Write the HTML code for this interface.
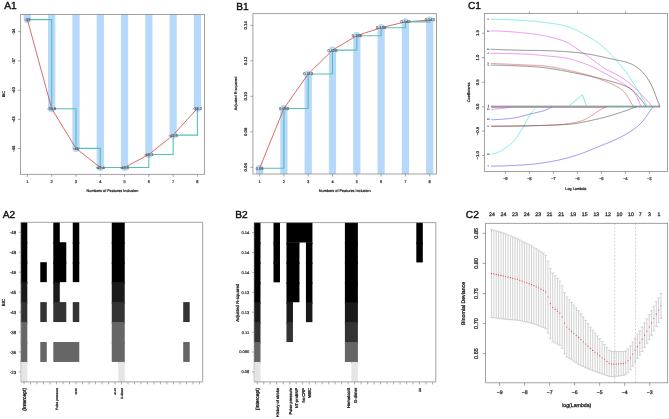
<!DOCTYPE html>
<html><head><meta charset="utf-8"><style>
html,body{margin:0;padding:0;background:#fff;}
svg{display:block;font-family:"Liberation Sans", sans-serif;will-change:transform;text-rendering:geometricPrecision;}
</style></head><body>
<svg width="669" height="419" viewBox="0 0 669 419">
<rect width="669" height="419" fill="#fff"/>
<text x="4.3" y="8.9" font-size="10.2" fill="#111" stroke="#111" stroke-width="0.4">A1</text>
<text x="236.3" y="9.6" font-size="10.2" fill="#111" stroke="#111" stroke-width="0.4">B1</text>
<text x="468" y="9.4" font-size="10.2" fill="#111" stroke="#111" stroke-width="0.4">C1</text>
<text x="2.7" y="218.1" font-size="10.2" fill="#111" stroke="#111" stroke-width="0.4">A2</text>
<text x="235.2" y="217.9" font-size="10.2" fill="#111" stroke="#111" stroke-width="0.4">B2</text>
<text x="465.8" y="218.1" font-size="10.2" fill="#111" stroke="#111" stroke-width="0.4">C2</text>
<rect x="23.8" y="14.4" width="7.2" height="5.2" fill="#b5d8fb"/>
<circle cx="27.4" cy="19.6" r="3.6" fill="#b5d8fb"/>
<rect x="48.09" y="14.4" width="7.2" height="94.3" fill="#b5d8fb"/>
<circle cx="51.69" cy="108.7" r="3.6" fill="#b5d8fb"/>
<rect x="72.38" y="14.4" width="7.2" height="134" fill="#b5d8fb"/>
<circle cx="75.98" cy="148.4" r="3.6" fill="#b5d8fb"/>
<rect x="96.67" y="14.4" width="7.2" height="153.1" fill="#b5d8fb"/>
<circle cx="100.27" cy="167.5" r="3.6" fill="#b5d8fb"/>
<rect x="120.96" y="14.4" width="7.2" height="153.1" fill="#b5d8fb"/>
<circle cx="124.56" cy="167.5" r="3.6" fill="#b5d8fb"/>
<rect x="145.25" y="14.4" width="7.2" height="140.1" fill="#b5d8fb"/>
<circle cx="148.85" cy="154.5" r="3.6" fill="#b5d8fb"/>
<rect x="169.54" y="14.4" width="7.2" height="120.7" fill="#b5d8fb"/>
<circle cx="173.14" cy="135.1" r="3.6" fill="#b5d8fb"/>
<rect x="193.83" y="14.4" width="7.2" height="93.9" fill="#b5d8fb"/>
<circle cx="197.43" cy="108.3" r="3.6" fill="#b5d8fb"/>
<rect x="20.5" y="14.4" width="183.9" height="159.9" fill="none" stroke="#8a8a8a" stroke-width="0.8"/>
<polyline points="27.4,19.6 51.69,108.7 75.98,148.4 100.27,167.5 124.56,167.5 148.85,154.5 173.14,135.1 197.43,108.3" fill="none" stroke="#d9504a" stroke-width="0.85" />
<polyline points="27.4,19.6 51.69,19.6 51.69,108.7 75.98,108.7 75.98,148.4 100.27,148.4 100.27,167.5 124.56,167.5 124.56,167.5 148.85,167.5 148.85,154.5 173.14,154.5 173.14,135.1 197.43,135.1 197.43,108.3" fill="none" stroke="#55c0b8" stroke-width="1.1" />
<text transform="translate(27.4,19.6)" y="1.44" font-size="4" text-anchor="middle" fill="#666" stroke="#666" stroke-width="0.22" font-weight="normal" >-33</text>
<text transform="translate(51.69,108.7)" y="1.44" font-size="4" text-anchor="middle" fill="#666" stroke="#666" stroke-width="0.22" font-weight="normal" >-39.9</text>
<text transform="translate(75.98,148.4)" y="1.44" font-size="4" text-anchor="middle" fill="#666" stroke="#666" stroke-width="0.22" font-weight="normal" >-45</text>
<text transform="translate(100.27,167.5)" y="1.44" font-size="4" text-anchor="middle" fill="#666" stroke="#666" stroke-width="0.22" font-weight="normal" >-48.4</text>
<text transform="translate(124.56,167.5)" y="1.44" font-size="4" text-anchor="middle" fill="#666" stroke="#666" stroke-width="0.22" font-weight="normal" >-48.6</text>
<text transform="translate(148.85,154.5)" y="1.44" font-size="4" text-anchor="middle" fill="#666" stroke="#666" stroke-width="0.22" font-weight="normal" >-46.1</text>
<text transform="translate(173.14,135.1)" y="1.44" font-size="4" text-anchor="middle" fill="#666" stroke="#666" stroke-width="0.22" font-weight="normal" >-42.6</text>
<text transform="translate(197.43,108.3)" y="1.44" font-size="4" text-anchor="middle" fill="#666" stroke="#666" stroke-width="0.22" font-weight="normal" >-38.2</text>
<line x1="27.4" y1="174.3" x2="27.4" y2="176.8" stroke="#8a8a8a" stroke-width="0.8" />
<text transform="translate(27.4,181.3)" y="1.44" font-size="4" text-anchor="middle" fill="#333" stroke="#333" stroke-width="0.22" font-weight="normal" >1</text>
<line x1="51.69" y1="174.3" x2="51.69" y2="176.8" stroke="#8a8a8a" stroke-width="0.8" />
<text transform="translate(51.69,181.3)" y="1.44" font-size="4" text-anchor="middle" fill="#333" stroke="#333" stroke-width="0.22" font-weight="normal" >2</text>
<line x1="75.98" y1="174.3" x2="75.98" y2="176.8" stroke="#8a8a8a" stroke-width="0.8" />
<text transform="translate(75.98,181.3)" y="1.44" font-size="4" text-anchor="middle" fill="#333" stroke="#333" stroke-width="0.22" font-weight="normal" >3</text>
<line x1="100.27" y1="174.3" x2="100.27" y2="176.8" stroke="#8a8a8a" stroke-width="0.8" />
<text transform="translate(100.27,181.3)" y="1.44" font-size="4" text-anchor="middle" fill="#333" stroke="#333" stroke-width="0.22" font-weight="normal" >4</text>
<line x1="124.56" y1="174.3" x2="124.56" y2="176.8" stroke="#8a8a8a" stroke-width="0.8" />
<text transform="translate(124.56,181.3)" y="1.44" font-size="4" text-anchor="middle" fill="#333" stroke="#333" stroke-width="0.22" font-weight="normal" >5</text>
<line x1="148.85" y1="174.3" x2="148.85" y2="176.8" stroke="#8a8a8a" stroke-width="0.8" />
<text transform="translate(148.85,181.3)" y="1.44" font-size="4" text-anchor="middle" fill="#333" stroke="#333" stroke-width="0.22" font-weight="normal" >6</text>
<line x1="173.14" y1="174.3" x2="173.14" y2="176.8" stroke="#8a8a8a" stroke-width="0.8" />
<text transform="translate(173.14,181.3)" y="1.44" font-size="4" text-anchor="middle" fill="#333" stroke="#333" stroke-width="0.22" font-weight="normal" >7</text>
<line x1="197.43" y1="174.3" x2="197.43" y2="176.8" stroke="#8a8a8a" stroke-width="0.8" />
<text transform="translate(197.43,181.3)" y="1.44" font-size="4" text-anchor="middle" fill="#333" stroke="#333" stroke-width="0.22" font-weight="normal" >8</text>
<line x1="18" y1="31.7" x2="20.5" y2="31.7" stroke="#8a8a8a" stroke-width="0.8" />
<text transform="translate(13.4,31.7) rotate(-90)" y="1.51" font-size="4.2" text-anchor="middle" fill="#333" stroke="#333" stroke-width="0.23" font-weight="normal" >-34</text>
<line x1="18" y1="60.9" x2="20.5" y2="60.9" stroke="#8a8a8a" stroke-width="0.8" />
<text transform="translate(13.4,60.9) rotate(-90)" y="1.51" font-size="4.2" text-anchor="middle" fill="#333" stroke="#333" stroke-width="0.23" font-weight="normal" >-37</text>
<line x1="18" y1="90.3" x2="20.5" y2="90.3" stroke="#8a8a8a" stroke-width="0.8" />
<text transform="translate(13.4,90.3) rotate(-90)" y="1.51" font-size="4.2" text-anchor="middle" fill="#333" stroke="#333" stroke-width="0.23" font-weight="normal" >-40</text>
<line x1="18" y1="119.4" x2="20.5" y2="119.4" stroke="#8a8a8a" stroke-width="0.8" />
<text transform="translate(13.4,119.4) rotate(-90)" y="1.51" font-size="4.2" text-anchor="middle" fill="#333" stroke="#333" stroke-width="0.23" font-weight="normal" >-43</text>
<line x1="18" y1="148.6" x2="20.5" y2="148.6" stroke="#8a8a8a" stroke-width="0.8" />
<text transform="translate(13.4,148.6) rotate(-90)" y="1.51" font-size="4.2" text-anchor="middle" fill="#333" stroke="#333" stroke-width="0.23" font-weight="normal" >-46</text>
<text transform="translate(112.4,190.5)" y="1.37" font-size="3.8" text-anchor="middle" fill="#222" stroke="#222" stroke-width="0.21" font-weight="normal" >Numbers of Features Inclusion</text>
<text transform="translate(4.1,94.2) rotate(-90)" y="1.37" font-size="3.8" text-anchor="middle" fill="#222" stroke="#222" stroke-width="0.21" font-weight="normal" >BIC</text>
<rect x="256" y="168.3" width="7.2" height="5.7" fill="#b5d8fb"/>
<circle cx="259.6" cy="168.3" r="3.6" fill="#b5d8fb"/>
<rect x="280.3" y="108.5" width="7.2" height="65.5" fill="#b5d8fb"/>
<circle cx="283.9" cy="108.5" r="3.6" fill="#b5d8fb"/>
<rect x="304.6" y="74" width="7.2" height="100" fill="#b5d8fb"/>
<circle cx="308.2" cy="74" r="3.6" fill="#b5d8fb"/>
<rect x="328.9" y="50.1" width="7.2" height="123.9" fill="#b5d8fb"/>
<circle cx="332.5" cy="50.1" r="3.6" fill="#b5d8fb"/>
<rect x="353.2" y="35.7" width="7.2" height="138.3" fill="#b5d8fb"/>
<circle cx="356.8" cy="35.7" r="3.6" fill="#b5d8fb"/>
<rect x="377.5" y="27.7" width="7.2" height="146.3" fill="#b5d8fb"/>
<circle cx="381.1" cy="27.7" r="3.6" fill="#b5d8fb"/>
<rect x="401.8" y="21.9" width="7.2" height="152.1" fill="#b5d8fb"/>
<circle cx="405.4" cy="21.9" r="3.6" fill="#b5d8fb"/>
<rect x="426.1" y="20" width="7.2" height="154" fill="#b5d8fb"/>
<circle cx="429.7" cy="20" r="3.6" fill="#b5d8fb"/>
<rect x="252.9" y="13.7" width="183.6" height="160.3" fill="none" stroke="#8a8a8a" stroke-width="0.8"/>
<polyline points="259.6,168.3 283.9,108.5 308.2,74 332.5,50.1 356.8,35.7 381.1,27.7 405.4,21.9 429.7,20" fill="none" stroke="#d9504a" stroke-width="0.85" />
<polyline points="259.6,168.3 283.9,168.3 283.9,108.5 308.2,108.5 308.2,74 332.5,74 332.5,50.1 356.8,50.1 356.8,35.7 381.1,35.7 381.1,27.7 405.4,27.7 405.4,21.9 429.7,21.9 429.7,20" fill="none" stroke="#55c0b8" stroke-width="1.1" />
<text transform="translate(259.6,168.3)" y="1.44" font-size="4" text-anchor="middle" fill="#666" stroke="#666" stroke-width="0.22" font-weight="normal" >0.06</text>
<text transform="translate(283.9,108.5)" y="1.44" font-size="4" text-anchor="middle" fill="#666" stroke="#666" stroke-width="0.22" font-weight="normal" >0.093</text>
<text transform="translate(308.2,74)" y="1.44" font-size="4" text-anchor="middle" fill="#666" stroke="#666" stroke-width="0.22" font-weight="normal" >0.113</text>
<text transform="translate(332.5,50.1)" y="1.44" font-size="4" text-anchor="middle" fill="#666" stroke="#666" stroke-width="0.22" font-weight="normal" >0.126</text>
<text transform="translate(356.8,35.7)" y="1.44" font-size="4" text-anchor="middle" fill="#666" stroke="#666" stroke-width="0.22" font-weight="normal" >0.138</text>
<text transform="translate(381.1,27.7)" y="1.44" font-size="4" text-anchor="middle" fill="#666" stroke="#666" stroke-width="0.22" font-weight="normal" >0.139</text>
<text transform="translate(405.4,21.9)" y="1.44" font-size="4" text-anchor="middle" fill="#666" stroke="#666" stroke-width="0.22" font-weight="normal" >0.142</text>
<text transform="translate(429.7,20)" y="1.44" font-size="4" text-anchor="middle" fill="#666" stroke="#666" stroke-width="0.22" font-weight="normal" >0.143</text>
<line x1="259.6" y1="174" x2="259.6" y2="176.5" stroke="#8a8a8a" stroke-width="0.8" />
<text transform="translate(259.6,181.2)" y="1.44" font-size="4" text-anchor="middle" fill="#333" stroke="#333" stroke-width="0.22" font-weight="normal" >1</text>
<line x1="283.9" y1="174" x2="283.9" y2="176.5" stroke="#8a8a8a" stroke-width="0.8" />
<text transform="translate(283.9,181.2)" y="1.44" font-size="4" text-anchor="middle" fill="#333" stroke="#333" stroke-width="0.22" font-weight="normal" >2</text>
<line x1="308.2" y1="174" x2="308.2" y2="176.5" stroke="#8a8a8a" stroke-width="0.8" />
<text transform="translate(308.2,181.2)" y="1.44" font-size="4" text-anchor="middle" fill="#333" stroke="#333" stroke-width="0.22" font-weight="normal" >3</text>
<line x1="332.5" y1="174" x2="332.5" y2="176.5" stroke="#8a8a8a" stroke-width="0.8" />
<text transform="translate(332.5,181.2)" y="1.44" font-size="4" text-anchor="middle" fill="#333" stroke="#333" stroke-width="0.22" font-weight="normal" >4</text>
<line x1="356.8" y1="174" x2="356.8" y2="176.5" stroke="#8a8a8a" stroke-width="0.8" />
<text transform="translate(356.8,181.2)" y="1.44" font-size="4" text-anchor="middle" fill="#333" stroke="#333" stroke-width="0.22" font-weight="normal" >5</text>
<line x1="381.1" y1="174" x2="381.1" y2="176.5" stroke="#8a8a8a" stroke-width="0.8" />
<text transform="translate(381.1,181.2)" y="1.44" font-size="4" text-anchor="middle" fill="#333" stroke="#333" stroke-width="0.22" font-weight="normal" >6</text>
<line x1="405.4" y1="174" x2="405.4" y2="176.5" stroke="#8a8a8a" stroke-width="0.8" />
<text transform="translate(405.4,181.2)" y="1.44" font-size="4" text-anchor="middle" fill="#333" stroke="#333" stroke-width="0.22" font-weight="normal" >7</text>
<line x1="429.7" y1="174" x2="429.7" y2="176.5" stroke="#8a8a8a" stroke-width="0.8" />
<text transform="translate(429.7,181.2)" y="1.44" font-size="4" text-anchor="middle" fill="#333" stroke="#333" stroke-width="0.22" font-weight="normal" >8</text>
<line x1="250.4" y1="25.3" x2="252.9" y2="25.3" stroke="#8a8a8a" stroke-width="0.8" />
<text transform="translate(245.6,25.3) rotate(-90)" y="1.51" font-size="4.2" text-anchor="middle" fill="#333" stroke="#333" stroke-width="0.23" font-weight="normal" >0.14</text>
<line x1="250.4" y1="60.8" x2="252.9" y2="60.8" stroke="#8a8a8a" stroke-width="0.8" />
<text transform="translate(245.6,60.8) rotate(-90)" y="1.51" font-size="4.2" text-anchor="middle" fill="#333" stroke="#333" stroke-width="0.23" font-weight="normal" >0.12</text>
<line x1="250.4" y1="96.3" x2="252.9" y2="96.3" stroke="#8a8a8a" stroke-width="0.8" />
<text transform="translate(245.6,96.3) rotate(-90)" y="1.51" font-size="4.2" text-anchor="middle" fill="#333" stroke="#333" stroke-width="0.23" font-weight="normal" >0.10</text>
<line x1="250.4" y1="131.8" x2="252.9" y2="131.8" stroke="#8a8a8a" stroke-width="0.8" />
<text transform="translate(245.6,131.8) rotate(-90)" y="1.51" font-size="4.2" text-anchor="middle" fill="#333" stroke="#333" stroke-width="0.23" font-weight="normal" >0.08</text>
<line x1="250.4" y1="167.3" x2="252.9" y2="167.3" stroke="#8a8a8a" stroke-width="0.8" />
<text transform="translate(245.6,167.3) rotate(-90)" y="1.51" font-size="4.2" text-anchor="middle" fill="#333" stroke="#333" stroke-width="0.23" font-weight="normal" >0.06</text>
<text transform="translate(344.7,190.6)" y="1.37" font-size="3.8" text-anchor="middle" fill="#222" stroke="#222" stroke-width="0.21" font-weight="normal" >Numbers of Features Inclusion</text>
<text transform="translate(235.6,93.4) rotate(-90)" y="1.37" font-size="3.8" text-anchor="middle" fill="#222" stroke="#222" stroke-width="0.21" font-weight="normal" >Adjusted R-squared</text>
<line x1="490.9" y1="106" x2="660.2" y2="106" stroke="#5a7a6a" stroke-width="0.5" />
<line x1="490.9" y1="106.5" x2="660.2" y2="106.5" stroke="#3aa0a0" stroke-width="0.5" />
<line x1="490.9" y1="107.1" x2="660.2" y2="107.1" stroke="#505050" stroke-width="0.5" />
<line x1="490.9" y1="107.5" x2="606" y2="107.5" stroke="#e06088" stroke-width="0.5" />
<polyline points="490.7,19.21 491.2,19.21 491.7,19.22 492.2,19.22 492.7,19.23 493.2,19.23 493.7,19.24 494.2,19.25 494.7,19.26 495.2,19.27 495.7,19.28 496.2,19.29 496.7,19.3 497.2,19.31 497.7,19.32 498.2,19.33 498.7,19.35 499.2,19.36 499.7,19.38 500.2,19.39 500.7,19.41 501.2,19.42 501.7,19.44 502.2,19.46 502.7,19.47 503.2,19.49 503.7,19.51 504.2,19.53 504.7,19.55 505.2,19.57 505.7,19.59 506.2,19.61 506.7,19.63 507.2,19.66 507.7,19.68 508.2,19.7 508.7,19.72 509.2,19.75 509.7,19.77 510.2,19.8 510.7,19.82 511.2,19.85 511.7,19.87 512.2,19.9 512.7,19.92 513.2,19.95 513.7,19.98 514.2,20 514.7,20.03 515.2,20.06 515.7,20.09 516.2,20.11 516.7,20.14 517.2,20.17 517.7,20.2 518.2,20.23 518.7,20.26 519.2,20.29 519.7,20.32 520.2,20.35 520.7,20.38 521.2,20.41 521.7,20.44 522.2,20.47 522.7,20.5 523.2,20.53 523.7,20.56 524.2,20.59 524.7,20.62 525.2,20.65 525.7,20.68 526.2,20.72 526.7,20.75 527.2,20.78 527.7,20.81 528.2,20.85 528.7,20.88 529.2,20.91 529.7,20.95 530.2,20.98 530.7,21.02 531.2,21.06 531.7,21.1 532.2,21.14 532.7,21.18 533.2,21.22 533.7,21.27 534.2,21.31 534.7,21.36 535.2,21.41 535.7,21.45 536.2,21.5 536.7,21.55 537.2,21.6 537.7,21.66 538.2,21.71 538.7,21.76 539.2,21.82 539.7,21.87 540.2,21.93 540.7,21.98 541.2,22.04 541.7,22.09 542.2,22.15 542.7,22.21 543.2,22.26 543.7,22.32 544.2,22.38 544.7,22.44 545.2,22.5 545.7,22.56 546.2,22.62 546.7,22.68 547.2,22.74 547.7,22.8 548.2,22.87 548.7,22.93 549.2,23 549.7,23.06 550.2,23.13 550.7,23.2 551.2,23.27 551.7,23.34 552.2,23.41 552.7,23.48 553.2,23.56 553.7,23.63 554.2,23.71 554.7,23.79 555.2,23.87 555.7,23.95 556.2,24.03 556.7,24.12 557.2,24.2 557.7,24.29 558.2,24.38 558.7,24.47 559.2,24.57 559.7,24.66 560.2,24.76 560.7,24.86 561.2,24.96 561.7,25.06 562.2,25.17 562.7,25.28 563.2,25.39 563.7,25.51 564.2,25.63 564.7,25.76 565.2,25.89 565.7,26.03 566.2,26.17 566.7,26.32 567.2,26.48 567.7,26.64 568.2,26.8 568.7,26.97 569.2,27.15 569.7,27.33 570.2,27.52 570.7,27.72 571.2,27.91 571.7,28.12 572.2,28.32 572.7,28.54 573.2,28.75 573.7,28.97 574.2,29.2 574.7,29.43 575.2,29.66 575.7,29.9 576.2,30.14 576.7,30.38 577.2,30.62 577.7,30.87 578.2,31.12 578.7,31.38 579.2,31.63 579.7,31.89 580.2,32.15 580.7,32.41 581.2,32.68 581.7,32.94 582.2,33.21 582.7,33.48 583.2,33.75 583.7,34.02 584.2,34.29 584.7,34.56 585.2,34.84 585.7,35.11 586.2,35.38 586.7,35.66 587.2,35.94 587.7,36.22 588.2,36.5 588.7,36.78 589.2,37.07 589.7,37.36 590.2,37.65 590.7,37.94 591.2,38.25 591.7,38.55 592.2,38.86 592.7,39.17 593.2,39.49 593.7,39.81 594.2,40.14 594.7,40.47 595.2,40.8 595.7,41.14 596.2,41.49 596.7,41.84 597.2,42.19 597.7,42.55 598.2,42.92 598.7,43.28 599.2,43.66 599.7,44.04 600.2,44.42 600.7,44.82 601.2,45.21 601.7,45.62 602.2,46.03 602.7,46.45 603.2,46.88 603.7,47.32 604.2,47.76 604.7,48.22 605.2,48.68 605.7,49.16 606.2,49.64 606.7,50.13 607.2,50.62 607.7,51.12 608.2,51.63 608.7,52.14 609.2,52.66 609.7,53.19 610.2,53.72 610.7,54.25 611.2,54.78 611.7,55.32 612.2,55.86 612.7,56.4 613.2,56.95 613.7,57.5 614.2,58.05 614.7,58.6 615.2,59.16 615.7,59.72 616.2,60.28 616.7,60.85 617.2,61.42 617.7,62 618.2,62.58 618.7,63.16 619.2,63.75 619.7,64.35 620.2,64.95 620.7,65.55 621.2,66.16 621.7,66.78 622.2,67.4 622.7,68.03 623.2,68.66 623.7,69.3 624.2,69.95 624.7,70.6 625.2,71.26 625.7,71.93 626.2,72.61 626.7,73.29 627.2,73.98 627.7,74.68 628.2,75.39 628.7,76.11 629.2,76.84 629.7,77.57 630.2,78.31 630.7,79.06 631.2,79.81 631.7,80.57 632.2,81.33 632.7,82.1 633.2,82.88 633.7,83.66 634.2,84.44 634.7,85.23 635.2,86.03 635.7,86.83 636.2,87.63 636.7,88.44 637.2,89.26 637.7,90.09 638.2,90.92 638.7,91.75 639.2,92.59 639.7,93.43 640.2,94.28 640.7,95.13 641.2,95.98 641.7,96.84 642.2,97.7 642.7,98.55 643.2,99.4 643.7,100.25 644.2,101.08 644.7,101.89 645.2,102.68 645.7,103.42 646.2,104.11 646.7,104.74 647.2,105.3 647.3,106.6" fill="none" stroke="#38e0e0" stroke-width="0.65" stroke-linejoin="round"/>
<polyline points="490.7,30.9 491.2,30.9 491.7,30.91 492.2,30.91 492.7,30.92 493.2,30.92 493.7,30.93 494.2,30.94 494.7,30.95 495.2,30.96 495.7,30.97 496.2,30.98 496.7,31 497.2,31.01 497.7,31.03 498.2,31.04 498.7,31.06 499.2,31.08 499.7,31.1 500.2,31.12 500.7,31.14 501.2,31.17 501.7,31.19 502.2,31.21 502.7,31.24 503.2,31.27 503.7,31.29 504.2,31.32 504.7,31.35 505.2,31.38 505.7,31.41 506.2,31.44 506.7,31.47 507.2,31.5 507.7,31.54 508.2,31.57 508.7,31.61 509.2,31.64 509.7,31.68 510.2,31.71 510.7,31.75 511.2,31.79 511.7,31.83 512.2,31.87 512.7,31.91 513.2,31.95 513.7,31.99 514.2,32.03 514.7,32.07 515.2,32.11 515.7,32.15 516.2,32.2 516.7,32.24 517.2,32.28 517.7,32.33 518.2,32.37 518.7,32.42 519.2,32.46 519.7,32.51 520.2,32.55 520.7,32.6 521.2,32.64 521.7,32.69 522.2,32.74 522.7,32.78 523.2,32.83 523.7,32.88 524.2,32.93 524.7,32.97 525.2,33.02 525.7,33.07 526.2,33.12 526.7,33.17 527.2,33.22 527.7,33.26 528.2,33.31 528.7,33.36 529.2,33.41 529.7,33.47 530.2,33.52 530.7,33.58 531.2,33.63 531.7,33.7 532.2,33.76 532.7,33.83 533.2,33.9 533.7,33.97 534.2,34.04 534.7,34.11 535.2,34.19 535.7,34.27 536.2,34.35 536.7,34.43 537.2,34.51 537.7,34.6 538.2,34.68 538.7,34.77 539.2,34.86 539.7,34.95 540.2,35.04 540.7,35.13 541.2,35.22 541.7,35.31 542.2,35.4 542.7,35.5 543.2,35.59 543.7,35.69 544.2,35.79 544.7,35.88 545.2,35.98 545.7,36.08 546.2,36.19 546.7,36.29 547.2,36.39 547.7,36.5 548.2,36.61 548.7,36.72 549.2,36.83 549.7,36.94 550.2,37.05 550.7,37.17 551.2,37.29 551.7,37.41 552.2,37.53 552.7,37.65 553.2,37.78 553.7,37.9 554.2,38.03 554.7,38.16 555.2,38.3 555.7,38.43 556.2,38.57 556.7,38.71 557.2,38.86 557.7,39 558.2,39.15 558.7,39.3 559.2,39.46 559.7,39.61 560.2,39.77 560.7,39.93 561.2,40.1 561.7,40.27 562.2,40.44 562.7,40.61 563.2,40.79 563.7,40.98 564.2,41.17 564.7,41.37 565.2,41.58 565.7,41.8 566.2,42.03 566.7,42.27 567.2,42.52 567.7,42.78 568.2,43.05 568.7,43.33 569.2,43.62 569.7,43.91 570.2,44.21 570.7,44.52 571.2,44.83 571.7,45.15 572.2,45.48 572.7,45.8 573.2,46.14 573.7,46.48 574.2,46.82 574.7,47.17 575.2,47.51 575.7,47.86 576.2,48.22 576.7,48.57 577.2,48.92 577.7,49.28 578.2,49.63 578.7,49.99 579.2,50.34 579.7,50.69 580.2,51.05 580.7,51.39 581.2,51.74 581.7,52.08 582.2,52.42 582.7,52.76 583.2,53.1 583.7,53.44 584.2,53.78 584.7,54.12 585.2,54.46 585.7,54.81 586.2,55.15 586.7,55.5 587.2,55.85 587.7,56.2 588.2,56.56 588.7,56.91 589.2,57.27 589.7,57.62 590.2,57.98 590.7,58.34 591.2,58.7 591.7,59.06 592.2,59.42 592.7,59.78 593.2,60.14 593.7,60.51 594.2,60.87 594.7,61.23 595.2,61.6 595.7,61.97 596.2,62.35 596.7,62.73 597.2,63.12 597.7,63.51 598.2,63.9 598.7,64.28 599.2,64.67 599.7,65.06 600.2,65.44 600.7,65.82 601.2,66.2 601.7,66.56 602.2,66.92 602.7,67.27 603.2,67.61 603.7,67.94 604.2,68.25 604.7,68.56 605.2,68.85 605.7,69.14 606.2,69.41 606.7,69.68 607.2,69.94 607.7,70.19 608.2,70.44 608.7,70.68 609.2,70.92 609.7,71.16 610.2,71.39 610.7,71.62 611.2,71.85 611.7,72.08 612.2,72.3 612.7,72.53 613.2,72.76 613.7,73 614.2,73.23 614.7,73.47 615.2,73.72 615.7,73.97 616.2,74.22 616.7,74.49 617.2,74.76 617.7,75.04 618.2,75.32 618.7,75.62 619.2,75.92 619.7,76.23 620.2,76.54 620.7,76.86 621.2,77.19 621.7,77.52 622.2,77.86 622.7,78.21 623.2,78.56 623.7,78.91 624.2,79.27 624.7,79.63 625.2,80 625.7,80.38 626.2,80.76 626.7,81.14 627.2,81.53 627.7,81.92 628.2,82.31 628.7,82.71 629.2,83.12 629.7,83.53 630.2,83.94 630.7,84.35 631.2,84.77 631.7,85.19 632.2,85.62 632.7,86.05 633.2,86.49 633.7,86.93 634.2,87.39 634.7,87.85 635.2,88.32 635.7,88.8 636.2,89.28 636.7,89.77 637.2,90.27 637.7,90.78 638.2,91.29 638.7,91.8 639.2,92.32 639.7,92.84 640.2,93.37 640.7,93.9 641.2,94.42 641.7,94.95 642.2,95.48 642.7,96.02 643.2,96.55 643.7,97.09 644.2,97.63 644.7,98.17 645.2,98.72 645.7,99.27 646.2,99.82 646.7,100.38 647.2,100.94 647.7,101.5 648.2,102.07 648.7,102.64 649.2,103.21 649.7,103.79 650.2,104.37 650.7,104.94 651.2,105.5 651.7,106.04 652.1,106.6" fill="none" stroke="#e258e2" stroke-width="0.65" stroke-linejoin="round"/>
<polyline points="490.7,49.24 491.2,49.25 491.7,49.27 492.2,49.28 492.7,49.3 493.2,49.32 493.7,49.34 494.2,49.36 494.7,49.39 495.2,49.41 495.7,49.43 496.2,49.45 496.7,49.47 497.2,49.5 497.7,49.52 498.2,49.54 498.7,49.56 499.2,49.58 499.7,49.6 500.2,49.62 500.7,49.64 501.2,49.66 501.7,49.68 502.2,49.7 502.7,49.72 503.2,49.74 503.7,49.76 504.2,49.77 504.7,49.79 505.2,49.81 505.7,49.83 506.2,49.85 506.7,49.86 507.2,49.88 507.7,49.9 508.2,49.91 508.7,49.93 509.2,49.95 509.7,49.96 510.2,49.98 510.7,49.99 511.2,50.01 511.7,50.02 512.2,50.04 512.7,50.05 513.2,50.07 513.7,50.08 514.2,50.1 514.7,50.11 515.2,50.12 515.7,50.14 516.2,50.15 516.7,50.16 517.2,50.17 517.7,50.19 518.2,50.2 518.7,50.21 519.2,50.22 519.7,50.23 520.2,50.24 520.7,50.25 521.2,50.26 521.7,50.28 522.2,50.29 522.7,50.29 523.2,50.3 523.7,50.31 524.2,50.32 524.7,50.33 525.2,50.34 525.7,50.35 526.2,50.36 526.7,50.36 527.2,50.37 527.7,50.38 528.2,50.39 528.7,50.39 529.2,50.4 529.7,50.4 530.2,50.41 530.7,50.42 531.2,50.42 531.7,50.43 532.2,50.43 532.7,50.43 533.2,50.44 533.7,50.44 534.2,50.45 534.7,50.45 535.2,50.45 535.7,50.46 536.2,50.46 536.7,50.47 537.2,50.47 537.7,50.48 538.2,50.48 538.7,50.49 539.2,50.49 539.7,50.5 540.2,50.51 540.7,50.52 541.2,50.52 541.7,50.53 542.2,50.54 542.7,50.55 543.2,50.56 543.7,50.57 544.2,50.59 544.7,50.6 545.2,50.61 545.7,50.63 546.2,50.64 546.7,50.66 547.2,50.67 547.7,50.69 548.2,50.71 548.7,50.72 549.2,50.74 549.7,50.76 550.2,50.78 550.7,50.8 551.2,50.82 551.7,50.84 552.2,50.86 552.7,50.89 553.2,50.91 553.7,50.93 554.2,50.96 554.7,50.98 555.2,51.01 555.7,51.03 556.2,51.06 556.7,51.08 557.2,51.11 557.7,51.14 558.2,51.16 558.7,51.19 559.2,51.22 559.7,51.25 560.2,51.28 560.7,51.31 561.2,51.34 561.7,51.37 562.2,51.4 562.7,51.44 563.2,51.47 563.7,51.5 564.2,51.53 564.7,51.57 565.2,51.6 565.7,51.64 566.2,51.67 566.7,51.7 567.2,51.74 567.7,51.78 568.2,51.81 568.7,51.85 569.2,51.89 569.7,51.92 570.2,51.96 570.7,52 571.2,52.04 571.7,52.08 572.2,52.11 572.7,52.15 573.2,52.19 573.7,52.23 574.2,52.27 574.7,52.32 575.2,52.36 575.7,52.4 576.2,52.45 576.7,52.49 577.2,52.54 577.7,52.59 578.2,52.64 578.7,52.69 579.2,52.75 579.7,52.81 580.2,52.86 580.7,52.93 581.2,52.99 581.7,53.05 582.2,53.12 582.7,53.19 583.2,53.26 583.7,53.33 584.2,53.41 584.7,53.48 585.2,53.56 585.7,53.64 586.2,53.72 586.7,53.8 587.2,53.88 587.7,53.97 588.2,54.06 588.7,54.14 589.2,54.23 589.7,54.32 590.2,54.41 590.7,54.51 591.2,54.6 591.7,54.7 592.2,54.79 592.7,54.89 593.2,54.99 593.7,55.09 594.2,55.19 594.7,55.29 595.2,55.39 595.7,55.49 596.2,55.59 596.7,55.7 597.2,55.8 597.7,55.91 598.2,56.01 598.7,56.12 599.2,56.23 599.7,56.33 600.2,56.44 600.7,56.55 601.2,56.66 601.7,56.77 602.2,56.87 602.7,56.98 603.2,57.09 603.7,57.2 604.2,57.31 604.7,57.42 605.2,57.53 605.7,57.64 606.2,57.75 606.7,57.86 607.2,57.97 607.7,58.08 608.2,58.19 608.7,58.29 609.2,58.4 609.7,58.51 610.2,58.62 610.7,58.72 611.2,58.83 611.7,58.93 612.2,59.04 612.7,59.14 613.2,59.25 613.7,59.35 614.2,59.45 614.7,59.55 615.2,59.65 615.7,59.75 616.2,59.85 616.7,59.95 617.2,60.05 617.7,60.16 618.2,60.26 618.7,60.36 619.2,60.47 619.7,60.57 620.2,60.68 620.7,60.79 621.2,60.9 621.7,61.02 622.2,61.13 622.7,61.25 623.2,61.38 623.7,61.5 624.2,61.63 624.7,61.76 625.2,61.9 625.7,62.04 626.2,62.18 626.7,62.33 627.2,62.48 627.7,62.64 628.2,62.8 628.7,62.97 629.2,63.15 629.7,63.33 630.2,63.52 630.7,63.73 631.2,63.94 631.7,64.16 632.2,64.4 632.7,64.65 633.2,64.91 633.7,65.19 634.2,65.48 634.7,65.78 635.2,66.1 635.7,66.43 636.2,66.77 636.7,67.13 637.2,67.5 637.7,67.88 638.2,68.27 638.7,68.67 639.2,69.09 639.7,69.51 640.2,69.95 640.7,70.4 641.2,70.87 641.7,71.35 642.2,71.84 642.7,72.35 643.2,72.89 643.7,73.44 644.2,74.01 644.7,74.61 645.2,75.24 645.7,75.89 646.2,76.56 646.7,77.26 647.2,77.99 647.7,78.74 648.2,79.53 648.7,80.34 649.2,81.17 649.7,82.04 650.2,82.94 650.7,83.87 651.2,84.84 651.7,85.85 652.2,86.9 652.7,88.01 653.2,89.15 653.7,90.35 654.2,91.6 654.7,92.9 655.2,94.24 655.7,95.6 656.2,96.97 656.7,98.34 657.2,99.66 657.7,100.91 658.2,102.07 658.7,103.1 659.2,103.99 659.2,106.6" fill="none" stroke="#505050" stroke-width="0.65" stroke-linejoin="round"/>
<polyline points="490.7,53.4 491.2,53.4 491.7,53.4 492.2,53.4 492.7,53.4 493.2,53.41 493.7,53.41 494.2,53.41 494.7,53.41 495.2,53.41 495.7,53.42 496.2,53.42 496.7,53.42 497.2,53.43 497.7,53.43 498.2,53.44 498.7,53.44 499.2,53.44 499.7,53.45 500.2,53.46 500.7,53.46 501.2,53.47 501.7,53.47 502.2,53.48 502.7,53.49 503.2,53.49 503.7,53.5 504.2,53.51 504.7,53.52 505.2,53.52 505.7,53.53 506.2,53.54 506.7,53.55 507.2,53.56 507.7,53.57 508.2,53.58 508.7,53.59 509.2,53.6 509.7,53.61 510.2,53.62 510.7,53.63 511.2,53.64 511.7,53.65 512.2,53.67 512.7,53.68 513.2,53.69 513.7,53.7 514.2,53.71 514.7,53.73 515.2,53.74 515.7,53.75 516.2,53.77 516.7,53.78 517.2,53.8 517.7,53.81 518.2,53.83 518.7,53.84 519.2,53.86 519.7,53.87 520.2,53.89 520.7,53.9 521.2,53.92 521.7,53.93 522.2,53.95 522.7,53.97 523.2,53.98 523.7,54 524.2,54.02 524.7,54.04 525.2,54.06 525.7,54.07 526.2,54.09 526.7,54.11 527.2,54.13 527.7,54.15 528.2,54.18 528.7,54.2 529.2,54.23 529.7,54.25 530.2,54.29 530.7,54.32 531.2,54.36 531.7,54.4 532.2,54.44 532.7,54.49 533.2,54.53 533.7,54.59 534.2,54.64 534.7,54.69 535.2,54.75 535.7,54.81 536.2,54.86 536.7,54.92 537.2,54.98 537.7,55.04 538.2,55.09 538.7,55.15 539.2,55.2 539.7,55.26 540.2,55.31 540.7,55.36 541.2,55.41 541.7,55.46 542.2,55.51 542.7,55.55 543.2,55.6 543.7,55.64 544.2,55.69 544.7,55.73 545.2,55.78 545.7,55.82 546.2,55.86 546.7,55.91 547.2,55.95 547.7,55.99 548.2,56.04 548.7,56.08 549.2,56.12 549.7,56.16 550.2,56.21 550.7,56.25 551.2,56.29 551.7,56.34 552.2,56.38 552.7,56.43 553.2,56.47 553.7,56.52 554.2,56.57 554.7,56.62 555.2,56.67 555.7,56.72 556.2,56.77 556.7,56.82 557.2,56.87 557.7,56.93 558.2,56.98 558.7,57.04 559.2,57.1 559.7,57.16 560.2,57.22 560.7,57.28 561.2,57.35 561.7,57.42 562.2,57.49 562.7,57.56 563.2,57.63 563.7,57.71 564.2,57.79 564.7,57.87 565.2,57.96 565.7,58.05 566.2,58.14 566.7,58.24 567.2,58.34 567.7,58.45 568.2,58.55 568.7,58.67 569.2,58.78 569.7,58.9 570.2,59.02 570.7,59.15 571.2,59.28 571.7,59.41 572.2,59.55 572.7,59.69 573.2,59.83 573.7,59.97 574.2,60.12 574.7,60.27 575.2,60.42 575.7,60.58 576.2,60.73 576.7,60.89 577.2,61.05 577.7,61.22 578.2,61.38 578.7,61.55 579.2,61.72 579.7,61.89 580.2,62.07 580.7,62.24 581.2,62.42 581.7,62.59 582.2,62.77 582.7,62.95 583.2,63.13 583.7,63.32 584.2,63.5 584.7,63.68 585.2,63.87 585.7,64.06 586.2,64.25 586.7,64.44 587.2,64.63 587.7,64.82 588.2,65.02 588.7,65.22 589.2,65.43 589.7,65.63 590.2,65.85 590.7,66.06 591.2,66.28 591.7,66.51 592.2,66.74 592.7,66.97 593.2,67.21 593.7,67.45 594.2,67.69 594.7,67.94 595.2,68.19 595.7,68.44 596.2,68.7 596.7,68.95 597.2,69.21 597.7,69.48 598.2,69.74 598.7,70.01 599.2,70.27 599.7,70.54 600.2,70.81 600.7,71.08 601.2,71.35 601.7,71.63 602.2,71.9 602.7,72.17 603.2,72.44 603.7,72.72 604.2,72.99 604.7,73.26 605.2,73.53 605.7,73.8 606.2,74.07 606.7,74.34 607.2,74.61 607.7,74.87 608.2,75.14 608.7,75.41 609.2,75.67 609.7,75.94 610.2,76.2 610.7,76.47 611.2,76.74 611.7,77 612.2,77.27 612.7,77.54 613.2,77.81 613.7,78.08 614.2,78.35 614.7,78.63 615.2,78.9 615.7,79.18 616.2,79.46 616.7,79.75 617.2,80.03 617.7,80.32 618.2,80.61 618.7,80.91 619.2,81.21 619.7,81.51 620.2,81.81 620.7,82.12 621.2,82.43 621.7,82.75 622.2,83.06 622.7,83.38 623.2,83.7 623.7,84.02 624.2,84.34 624.7,84.66 625.2,84.98 625.7,85.3 626.2,85.62 626.7,85.94 627.2,86.27 627.7,86.6 628.2,86.93 628.7,87.28 629.2,87.64 629.7,88.01 630.2,88.4 630.7,88.8 631.2,89.22 631.7,89.67 632.2,90.15 632.7,90.66 633.2,91.21 633.7,91.8 634.2,92.45 634.7,93.16 635.2,93.95 635.7,94.81 636.2,95.75 636.7,96.76 637.2,97.84 637.7,98.97 638.2,100.12 638.7,101.26 639.2,102.36 639.7,103.4 640.2,104.35 640.3,106.6" fill="none" stroke="#e258e2" stroke-width="0.65" stroke-linejoin="round"/>
<polyline points="490.7,63.43 491.2,63.45 491.7,63.46 492.2,63.48 492.7,63.49 493.2,63.51 493.7,63.53 494.2,63.55 494.7,63.57 495.2,63.59 495.7,63.62 496.2,63.64 496.7,63.66 497.2,63.68 497.7,63.7 498.2,63.73 498.7,63.75 499.2,63.77 499.7,63.79 500.2,63.81 500.7,63.83 501.2,63.86 501.7,63.88 502.2,63.9 502.7,63.92 503.2,63.94 503.7,63.97 504.2,63.99 504.7,64.01 505.2,64.03 505.7,64.05 506.2,64.08 506.7,64.1 507.2,64.12 507.7,64.14 508.2,64.16 508.7,64.19 509.2,64.21 509.7,64.23 510.2,64.25 510.7,64.28 511.2,64.3 511.7,64.32 512.2,64.34 512.7,64.36 513.2,64.39 513.7,64.41 514.2,64.43 514.7,64.45 515.2,64.48 515.7,64.5 516.2,64.52 516.7,64.54 517.2,64.56 517.7,64.59 518.2,64.61 518.7,64.63 519.2,64.65 519.7,64.68 520.2,64.7 520.7,64.72 521.2,64.74 521.7,64.77 522.2,64.79 522.7,64.81 523.2,64.83 523.7,64.86 524.2,64.88 524.7,64.9 525.2,64.92 525.7,64.95 526.2,64.97 526.7,64.99 527.2,65.01 527.7,65.04 528.2,65.06 528.7,65.08 529.2,65.1 529.7,65.12 530.2,65.14 530.7,65.17 531.2,65.19 531.7,65.21 532.2,65.23 532.7,65.25 533.2,65.27 533.7,65.29 534.2,65.31 534.7,65.33 535.2,65.35 535.7,65.38 536.2,65.4 536.7,65.42 537.2,65.45 537.7,65.48 538.2,65.5 538.7,65.53 539.2,65.56 539.7,65.6 540.2,65.63 540.7,65.67 541.2,65.7 541.7,65.74 542.2,65.79 542.7,65.83 543.2,65.88 543.7,65.92 544.2,65.98 544.7,66.03 545.2,66.08 545.7,66.14 546.2,66.2 546.7,66.26 547.2,66.32 547.7,66.39 548.2,66.45 548.7,66.52 549.2,66.59 549.7,66.66 550.2,66.74 550.7,66.81 551.2,66.89 551.7,66.97 552.2,67.05 552.7,67.13 553.2,67.21 553.7,67.3 554.2,67.38 554.7,67.47 555.2,67.56 555.7,67.65 556.2,67.74 556.7,67.84 557.2,67.93 557.7,68.02 558.2,68.12 558.7,68.22 559.2,68.32 559.7,68.42 560.2,68.52 560.7,68.62 561.2,68.72 561.7,68.83 562.2,68.93 562.7,69.04 563.2,69.14 563.7,69.25 564.2,69.36 564.7,69.47 565.2,69.58 565.7,69.69 566.2,69.8 566.7,69.91 567.2,70.02 567.7,70.13 568.2,70.25 568.7,70.36 569.2,70.47 569.7,70.59 570.2,70.7 570.7,70.82 571.2,70.93 571.7,71.05 572.2,71.16 572.7,71.28 573.2,71.4 573.7,71.51 574.2,71.63 574.7,71.75 575.2,71.86 575.7,71.98 576.2,72.1 576.7,72.22 577.2,72.34 577.7,72.46 578.2,72.58 578.7,72.7 579.2,72.83 579.7,72.95 580.2,73.08 580.7,73.21 581.2,73.34 581.7,73.47 582.2,73.6 582.7,73.73 583.2,73.87 583.7,74 584.2,74.14 584.7,74.28 585.2,74.42 585.7,74.56 586.2,74.7 586.7,74.85 587.2,74.99 587.7,75.14 588.2,75.29 588.7,75.44 589.2,75.59 589.7,75.74 590.2,75.89 590.7,76.05 591.2,76.2 591.7,76.36 592.2,76.52 592.7,76.68 593.2,76.85 593.7,77.01 594.2,77.18 594.7,77.34 595.2,77.51 595.7,77.68 596.2,77.85 596.7,78.03 597.2,78.2 597.7,78.38 598.2,78.56 598.7,78.74 599.2,78.92 599.7,79.1 600.2,79.29 600.7,79.47 601.2,79.66 601.7,79.85 602.2,80.04 602.7,80.23 603.2,80.43 603.7,80.62 604.2,80.82 604.7,81.02 605.2,81.22 605.7,81.43 606.2,81.63 606.7,81.84 607.2,82.05 607.7,82.26 608.2,82.47 608.7,82.68 609.2,82.9 609.7,83.12 610.2,83.34 610.7,83.56 611.2,83.78 611.7,84.01 612.2,84.23 612.7,84.46 613.2,84.7 613.7,84.93 614.2,85.17 614.7,85.42 615.2,85.67 615.7,85.93 616.2,86.19 616.7,86.46 617.2,86.74 617.7,87.02 618.2,87.32 618.7,87.63 619.2,87.95 619.7,88.28 620.2,88.62 620.7,88.98 621.2,89.36 621.7,89.75 622.2,90.17 622.7,90.6 623.2,91.07 623.7,91.56 624.2,92.09 624.7,92.65 625.2,93.25 625.7,93.88 626.2,94.55 626.7,95.26 627.2,96 627.7,96.78 628.2,97.59 628.7,98.43 629.2,99.29 629.7,100.17 630.2,101.06 630.7,101.95 631.2,102.84 631.7,103.71 632.2,104.55 632.7,105.37 633,106.6" fill="none" stroke="#e05858" stroke-width="0.65" stroke-linejoin="round"/>
<polyline points="490.7,65.1 491.2,65.11 491.7,65.11 492.2,65.11 492.7,65.12 493.2,65.12 493.7,65.12 494.2,65.13 494.7,65.13 495.2,65.14 495.7,65.15 496.2,65.16 496.7,65.16 497.2,65.17 497.7,65.18 498.2,65.19 498.7,65.2 499.2,65.21 499.7,65.22 500.2,65.23 500.7,65.24 501.2,65.26 501.7,65.27 502.2,65.28 502.7,65.29 503.2,65.31 503.7,65.32 504.2,65.34 504.7,65.35 505.2,65.37 505.7,65.38 506.2,65.4 506.7,65.42 507.2,65.43 507.7,65.45 508.2,65.47 508.7,65.48 509.2,65.5 509.7,65.52 510.2,65.54 510.7,65.56 511.2,65.58 511.7,65.6 512.2,65.62 512.7,65.64 513.2,65.66 513.7,65.68 514.2,65.7 514.7,65.72 515.2,65.74 515.7,65.76 516.2,65.79 516.7,65.81 517.2,65.83 517.7,65.85 518.2,65.88 518.7,65.9 519.2,65.92 519.7,65.94 520.2,65.97 520.7,65.99 521.2,66.01 521.7,66.04 522.2,66.06 522.7,66.09 523.2,66.11 523.7,66.13 524.2,66.16 524.7,66.18 525.2,66.21 525.7,66.23 526.2,66.26 526.7,66.28 527.2,66.31 527.7,66.33 528.2,66.36 528.7,66.38 529.2,66.41 529.7,66.44 530.2,66.46 530.7,66.49 531.2,66.52 531.7,66.55 532.2,66.58 532.7,66.62 533.2,66.65 533.7,66.69 534.2,66.72 534.7,66.76 535.2,66.79 535.7,66.83 536.2,66.87 536.7,66.91 537.2,66.96 537.7,67 538.2,67.04 538.7,67.09 539.2,67.13 539.7,67.18 540.2,67.23 540.7,67.28 541.2,67.33 541.7,67.38 542.2,67.44 542.7,67.49 543.2,67.55 543.7,67.61 544.2,67.67 544.7,67.73 545.2,67.79 545.7,67.85 546.2,67.92 546.7,67.99 547.2,68.05 547.7,68.12 548.2,68.19 548.7,68.26 549.2,68.34 549.7,68.41 550.2,68.49 550.7,68.56 551.2,68.64 551.7,68.72 552.2,68.8 552.7,68.88 553.2,68.96 553.7,69.04 554.2,69.12 554.7,69.21 555.2,69.29 555.7,69.38 556.2,69.46 556.7,69.55 557.2,69.64 557.7,69.73 558.2,69.81 558.7,69.9 559.2,70 559.7,70.09 560.2,70.18 560.7,70.27 561.2,70.36 561.7,70.46 562.2,70.55 562.7,70.65 563.2,70.74 563.7,70.84 564.2,70.93 564.7,71.03 565.2,71.12 565.7,71.22 566.2,71.32 566.7,71.41 567.2,71.51 567.7,71.61 568.2,71.71 568.7,71.81 569.2,71.9 569.7,72 570.2,72.1 570.7,72.2 571.2,72.3 571.7,72.4 572.2,72.49 572.7,72.59 573.2,72.69 573.7,72.79 574.2,72.89 574.7,72.98 575.2,73.08 575.7,73.18 576.2,73.28 576.7,73.38 577.2,73.47 577.7,73.57 578.2,73.67 578.7,73.77 579.2,73.87 579.7,73.97 580.2,74.07 580.7,74.17 581.2,74.27 581.7,74.37 582.2,74.47 582.7,74.57 583.2,74.67 583.7,74.77 584.2,74.88 584.7,74.98 585.2,75.08 585.7,75.19 586.2,75.29 586.7,75.4 587.2,75.5 587.7,75.61 588.2,75.71 588.7,75.82 589.2,75.93 589.7,76.04 590.2,76.14 590.7,76.25 591.2,76.36 591.7,76.47 592.2,76.58 592.7,76.7 593.2,76.81 593.7,76.92 594.2,77.04 594.7,77.15 595.2,77.26 595.7,77.38 596.2,77.5 596.7,77.61 597.2,77.73 597.7,77.85 598.2,77.97 598.7,78.09 599.2,78.21 599.7,78.34 600.2,78.46 600.7,78.58 601.2,78.71 601.7,78.83 602.2,78.96 602.7,79.09 603.2,79.22 603.7,79.35 604.2,79.48 604.7,79.61 605.2,79.74 605.7,79.88 606.2,80.01 606.7,80.15 607.2,80.28 607.7,80.42 608.2,80.56 608.7,80.7 609.2,80.84 609.7,80.99 610.2,81.13 610.7,81.27 611.2,81.42 611.7,81.56 612.2,81.71 612.7,81.85 613.2,82 613.7,82.15 614.2,82.29 614.7,82.44 615.2,82.59 615.7,82.74 616.2,82.89 616.7,83.04 617.2,83.19 617.7,83.35 618.2,83.51 618.7,83.67 619.2,83.83 619.7,83.99 620.2,84.16 620.7,84.33 621.2,84.51 621.7,84.69 622.2,84.87 622.7,85.06 623.2,85.25 623.7,85.45 624.2,85.65 624.7,85.85 625.2,86.06 625.7,86.28 626.2,86.51 626.7,86.74 627.2,86.97 627.7,87.22 628.2,87.47 628.7,87.74 629.2,88.01 629.7,88.3 630.2,88.6 630.7,88.92 631.2,89.26 631.7,89.61 632.2,89.99 632.7,90.39 633.2,90.81 633.7,91.26 634.2,91.72 634.7,92.2 635.2,92.71 635.7,93.22 636.2,93.76 636.7,94.3 637.2,94.86 637.7,95.43 638.2,96 638.7,96.59 639.2,97.19 639.7,97.79 640.2,98.41 640.7,99.04 641.2,99.68 641.7,100.33 642.2,100.99 642.7,101.67 643.2,102.35 643.7,103.04 644.2,103.73 644.7,104.42 645.2,105.1 645.7,105.77 646.1,106.6" fill="none" stroke="#505050" stroke-width="0.65" stroke-linejoin="round"/>
<polyline points="490.9,166.1 491.4,166.1 491.9,166.09 492.4,166.09 492.9,166.09 493.4,166.09 493.9,166.08 494.4,166.08 494.9,166.07 495.4,166.06 495.9,166.06 496.4,166.05 496.9,166.04 497.4,166.03 497.9,166.02 498.4,166.01 498.9,166 499.4,165.99 499.9,165.98 500.4,165.97 500.9,165.95 501.4,165.94 501.9,165.93 502.4,165.91 502.9,165.9 503.4,165.88 503.9,165.86 504.4,165.85 504.9,165.83 505.4,165.81 505.9,165.79 506.4,165.78 506.9,165.76 507.4,165.74 507.9,165.72 508.4,165.7 508.9,165.67 509.4,165.65 509.9,165.63 510.4,165.61 510.9,165.59 511.4,165.56 511.9,165.54 512.4,165.52 512.9,165.49 513.4,165.47 513.9,165.44 514.4,165.42 514.9,165.39 515.4,165.37 515.9,165.34 516.4,165.31 516.9,165.29 517.4,165.26 517.9,165.23 518.4,165.21 518.9,165.18 519.4,165.15 519.9,165.12 520.4,165.1 520.9,165.07 521.4,165.04 521.9,165.01 522.4,164.98 522.9,164.95 523.4,164.92 523.9,164.89 524.4,164.86 524.9,164.83 525.4,164.8 525.9,164.77 526.4,164.73 526.9,164.7 527.4,164.66 527.9,164.62 528.4,164.59 528.9,164.55 529.4,164.5 529.9,164.46 530.4,164.41 530.9,164.37 531.4,164.32 531.9,164.27 532.4,164.22 532.9,164.17 533.4,164.11 533.9,164.06 534.4,164 534.9,163.95 535.4,163.89 535.9,163.83 536.4,163.76 536.9,163.7 537.4,163.64 537.9,163.57 538.4,163.51 538.9,163.44 539.4,163.37 539.9,163.3 540.4,163.23 540.9,163.16 541.4,163.09 541.9,163.02 542.4,162.94 542.9,162.87 543.4,162.79 543.9,162.72 544.4,162.64 544.9,162.56 545.4,162.48 545.9,162.4 546.4,162.32 546.9,162.24 547.4,162.16 547.9,162.08 548.4,162 548.9,161.91 549.4,161.83 549.9,161.75 550.4,161.66 550.9,161.58 551.4,161.49 551.9,161.4 552.4,161.31 552.9,161.23 553.4,161.14 553.9,161.04 554.4,160.95 554.9,160.86 555.4,160.76 555.9,160.66 556.4,160.56 556.9,160.46 557.4,160.35 557.9,160.25 558.4,160.14 558.9,160.03 559.4,159.91 559.9,159.8 560.4,159.68 560.9,159.57 561.4,159.45 561.9,159.33 562.4,159.2 562.9,159.08 563.4,158.95 563.9,158.83 564.4,158.7 564.9,158.57 565.4,158.43 565.9,158.3 566.4,158.17 566.9,158.03 567.4,157.89 567.9,157.76 568.4,157.62 568.9,157.48 569.4,157.33 569.9,157.19 570.4,157.05 570.9,156.9 571.4,156.76 571.9,156.61 572.4,156.46 572.9,156.32 573.4,156.17 573.9,156.02 574.4,155.86 574.9,155.71 575.4,155.56 575.9,155.4 576.4,155.24 576.9,155.08 577.4,154.92 577.9,154.76 578.4,154.59 578.9,154.42 579.4,154.25 579.9,154.08 580.4,153.9 580.9,153.72 581.4,153.55 581.9,153.36 582.4,153.18 582.9,153 583.4,152.81 583.9,152.62 584.4,152.43 584.9,152.24 585.4,152.05 585.9,151.85 586.4,151.66 586.9,151.46 587.4,151.26 587.9,151.07 588.4,150.87 588.9,150.66 589.4,150.46 589.9,150.26 590.4,150.06 590.9,149.85 591.4,149.65 591.9,149.44 592.4,149.23 592.9,149.03 593.4,148.82 593.9,148.61 594.4,148.41 594.9,148.2 595.4,147.99 595.9,147.78 596.4,147.58 596.9,147.37 597.4,147.16 597.9,146.95 598.4,146.75 598.9,146.54 599.4,146.33 599.9,146.13 600.4,145.92 600.9,145.72 601.4,145.51 601.9,145.31 602.4,145.11 602.9,144.9 603.4,144.7 603.9,144.5 604.4,144.3 604.9,144.09 605.4,143.89 605.9,143.69 606.4,143.49 606.9,143.28 607.4,143.08 607.9,142.87 608.4,142.67 608.9,142.46 609.4,142.26 609.9,142.05 610.4,141.84 610.9,141.63 611.4,141.42 611.9,141.21 612.4,140.99 612.9,140.77 613.4,140.56 613.9,140.34 614.4,140.12 614.9,139.89 615.4,139.67 615.9,139.44 616.4,139.21 616.9,138.97 617.4,138.74 617.9,138.5 618.4,138.26 618.9,138.02 619.4,137.77 619.9,137.52 620.4,137.27 620.9,137.01 621.4,136.75 621.9,136.49 622.4,136.23 622.9,135.96 623.4,135.69 623.9,135.42 624.4,135.14 624.9,134.86 625.4,134.58 625.9,134.3 626.4,134.01 626.9,133.72 627.4,133.43 627.9,133.13 628.4,132.83 628.9,132.52 629.4,132.21 629.9,131.89 630.4,131.57 630.9,131.25 631.4,130.92 631.9,130.58 632.4,130.24 632.9,129.89 633.4,129.53 633.9,129.17 634.4,128.8 634.9,128.42 635.4,128.04 635.9,127.65 636.4,127.25 636.9,126.84 637.4,126.41 637.9,125.98 638.4,125.54 638.9,125.08 639.4,124.61 639.9,124.13 640.4,123.62 640.9,123.11 641.4,122.57 641.9,122.02 642.4,121.45 642.9,120.87 643.4,120.27 643.9,119.65 644.4,119.02 644.9,118.38 645.4,117.72 645.9,117.05 646.4,116.37 646.9,115.68 647.4,114.97 647.9,114.25 648.4,113.53 648.9,112.79 649.4,112.04 649.9,111.29 650.4,110.54 650.9,109.8 651.4,109.06 651.9,108.34 652.4,107.65 652.7,106.6" fill="none" stroke="#5a5ae6" stroke-width="0.65" stroke-linejoin="round"/>
<polyline points="490.9,154.18 491.4,154.16 491.9,154.13 492.4,154.08 492.9,154.02 493.4,153.94 493.9,153.84 494.4,153.73 494.9,153.6 495.4,153.46 495.9,153.3 496.4,153.13 496.9,152.94 497.4,152.74 497.9,152.53 498.4,152.3 498.9,152.06 499.4,151.81 499.9,151.55 500.4,151.28 500.9,151 501.4,150.71 501.9,150.4 502.4,150.09 502.9,149.77 503.4,149.44 503.9,149.11 504.4,148.77 504.9,148.42 505.4,148.06 505.9,147.7 506.4,147.33 506.9,146.95 507.4,146.58 507.9,146.19 508.4,145.81 508.9,145.42 509.4,145.03 509.9,144.63 510.4,144.23 510.9,143.83 511.4,143.41 511.9,142.98 512.4,142.53 512.9,142.05 513.4,141.53 513.9,140.98 514.4,140.4 514.9,139.79 515.4,139.15 515.9,138.48 516.4,137.79 516.9,137.08 517.4,136.35 517.9,135.6 518.4,134.83 518.9,134.06 519.4,133.27 519.9,132.48 520.4,131.68 520.9,130.88 521.4,130.08 521.9,129.27 522.4,128.46 522.9,127.62 523.4,126.77 523.9,125.9 524.4,124.99 524.9,124.06 525.4,123.12 525.9,122.16 526.4,121.21 526.9,120.26 527.4,119.33 527.9,118.42 528.4,117.54 528.9,116.7 529.4,115.9 529.9,115.14 530.4,114.42 530.9,113.73 531.4,113.06 531.9,112.41 532.4,111.78 532.9,111.14 533.4,110.5 533.9,109.86 534.4,109.21 534.9,108.56 535.4,107.91 535.9,107.26 536.4,106.6" fill="none" stroke="#38e0e0" stroke-width="0.65" stroke-linejoin="round"/>
<polyline points="491.2,119.69 491.7,119.69 492.2,119.68 492.7,119.67 493.2,119.67 493.7,119.65 494.2,119.64 494.7,119.63 495.2,119.61 495.7,119.59 496.2,119.57 496.7,119.55 497.2,119.53 497.7,119.5 498.2,119.48 498.7,119.45 499.2,119.42 499.7,119.38 500.2,119.35 500.7,119.32 501.2,119.28 501.7,119.24 502.2,119.2 502.7,119.16 503.2,119.12 503.7,119.08 504.2,119.04 504.7,118.99 505.2,118.95 505.7,118.9 506.2,118.85 506.7,118.81 507.2,118.76 507.7,118.71 508.2,118.66 508.7,118.61 509.2,118.56 509.7,118.5 510.2,118.45 510.7,118.39 511.2,118.34 511.7,118.28 512.2,118.21 512.7,118.15 513.2,118.08 513.7,118 514.2,117.92 514.7,117.84 515.2,117.75 515.7,117.66 516.2,117.57 516.7,117.47 517.2,117.36 517.7,117.26 518.2,117.15 518.7,117.03 519.2,116.92 519.7,116.8 520.2,116.67 520.7,116.55 521.2,116.42 521.7,116.29 522.2,116.16 522.7,116.03 523.2,115.9 523.7,115.76 524.2,115.63 524.7,115.49 525.2,115.35 525.7,115.22 526.2,115.08 526.7,114.94 527.2,114.81 527.7,114.67 528.2,114.54 528.7,114.41 529.2,114.27 529.7,114.14 530.2,114.02 530.7,113.89 531.2,113.77 531.7,113.65 532.2,113.53 532.7,113.41 533.2,113.29 533.7,113.18 534.2,113.07 534.7,112.96 535.2,112.85 535.7,112.74 536.2,112.64 536.7,112.53 537.2,112.42 537.7,112.31 538.2,112.2 538.7,112.09 539.2,111.98 539.7,111.86 540.2,111.74 540.7,111.62 541.2,111.5 541.7,111.37 542.2,111.23 542.7,111.09 543.2,110.94 543.7,110.79 544.2,110.63 544.7,110.45 545.2,110.27 545.7,110.08 546.2,109.87 546.7,109.65 547.2,109.41 547.7,109.16 548.2,108.9 548.7,108.63 549.2,108.35 549.7,108.08 550.2,107.81 550.7,107.56 551.2,107.32 551.7,107.1 551.8,106.6" fill="none" stroke="#5a5ae6" stroke-width="0.65" stroke-linejoin="round"/>
<polyline points="491.2,126.1 491.7,126.1 492.2,126.1 492.7,126.1 493.2,126.1 493.7,126.1 494.2,126.1 494.7,126.1 495.2,126.1 495.7,126.09 496.2,126.09 496.7,126.09 497.2,126.09 497.7,126.09 498.2,126.09 498.7,126.09 499.2,126.08 499.7,126.08 500.2,126.08 500.7,126.08 501.2,126.08 501.7,126.07 502.2,126.07 502.7,126.07 503.2,126.07 503.7,126.06 504.2,126.06 504.7,126.06 505.2,126.05 505.7,126.05 506.2,126.05 506.7,126.04 507.2,126.04 507.7,126.04 508.2,126.03 508.7,126.03 509.2,126.02 509.7,126.02 510.2,126.02 510.7,126.01 511.2,126.01 511.7,126 512.2,126 512.7,125.99 513.2,125.99 513.7,125.98 514.2,125.98 514.7,125.97 515.2,125.97 515.7,125.96 516.2,125.96 516.7,125.95 517.2,125.94 517.7,125.94 518.2,125.93 518.7,125.92 519.2,125.92 519.7,125.91 520.2,125.91 520.7,125.9 521.2,125.89 521.7,125.88 522.2,125.88 522.7,125.87 523.2,125.86 523.7,125.85 524.2,125.85 524.7,125.84 525.2,125.83 525.7,125.82 526.2,125.82 526.7,125.81 527.2,125.8 527.7,125.79 528.2,125.78 528.7,125.77 529.2,125.76 529.7,125.76 530.2,125.75 530.7,125.74 531.2,125.73 531.7,125.72 532.2,125.71 532.7,125.7 533.2,125.69 533.7,125.68 534.2,125.67 534.7,125.66 535.2,125.65 535.7,125.64 536.2,125.63 536.7,125.62 537.2,125.61 537.7,125.6 538.2,125.58 538.7,125.57 539.2,125.56 539.7,125.55 540.2,125.54 540.7,125.53 541.2,125.52 541.7,125.5 542.2,125.49 542.7,125.48 543.2,125.47 543.7,125.45 544.2,125.44 544.7,125.43 545.2,125.42 545.7,125.4 546.2,125.39 546.7,125.38 547.2,125.36 547.7,125.35 548.2,125.34 548.7,125.32 549.2,125.31 549.7,125.3 550.2,125.28 550.7,125.27 551.2,125.25 551.7,125.24 552.2,125.22 552.7,125.2 553.2,125.19 553.7,125.17 554.2,125.15 554.7,125.12 555.2,125.1 555.7,125.07 556.2,125.04 556.7,125.01 557.2,124.98 557.7,124.94 558.2,124.9 558.7,124.86 559.2,124.82 559.7,124.77 560.2,124.73 560.7,124.68 561.2,124.62 561.7,124.57 562.2,124.51 562.7,124.46 563.2,124.39 563.7,124.33 564.2,124.27 564.7,124.2 565.2,124.13 565.7,124.06 566.2,123.99 566.7,123.91 567.2,123.84 567.7,123.76 568.2,123.68 568.7,123.6 569.2,123.51 569.7,123.43 570.2,123.34 570.7,123.25 571.2,123.16 571.7,123.06 572.2,122.97 572.7,122.87 573.2,122.77 573.7,122.67 574.2,122.57 574.7,122.47 575.2,122.36 575.7,122.26 576.2,122.15 576.7,122.04 577.2,121.93 577.7,121.82 578.2,121.7 578.7,121.58 579.2,121.46 579.7,121.33 580.2,121.2 580.7,121.06 581.2,120.91 581.7,120.76 582.2,120.59 582.7,120.42 583.2,120.23 583.7,120.03 584.2,119.81 584.7,119.59 585.2,119.36 585.7,119.11 586.2,118.85 586.7,118.59 587.2,118.31 587.7,118.02 588.2,117.73 588.7,117.43 589.2,117.13 589.7,116.82 590.2,116.5 590.7,116.18 591.2,115.85 591.7,115.52 592.2,115.19 592.7,114.86 593.2,114.52 593.7,114.19 594.2,113.85 594.7,113.52 595.2,113.18 595.7,112.85 596.2,112.52 596.7,112.2 597.2,111.87 597.7,111.56 598.2,111.24 598.7,110.93 599.2,110.63 599.7,110.33 600.2,110.03 600.7,109.74 601.2,109.45 601.7,109.16 602.2,108.88 602.7,108.6 603.2,108.33 603.7,108.07 604.2,107.83 604.7,107.6 605.2,107.39 605.7,107.2 606.2,107.05 606.2,106.6" fill="none" stroke="#e05858" stroke-width="0.65" stroke-linejoin="round"/>
<polyline points="491.2,126.3 491.7,126.3 492.2,126.3 492.7,126.3 493.2,126.3 493.7,126.3 494.2,126.3 494.7,126.29 495.2,126.29 495.7,126.29 496.2,126.29 496.7,126.29 497.2,126.29 497.7,126.28 498.2,126.28 498.7,126.28 499.2,126.28 499.7,126.27 500.2,126.27 500.7,126.27 501.2,126.26 501.7,126.26 502.2,126.26 502.7,126.25 503.2,126.25 503.7,126.25 504.2,126.24 504.7,126.24 505.2,126.23 505.7,126.23 506.2,126.22 506.7,126.22 507.2,126.21 507.7,126.21 508.2,126.2 508.7,126.2 509.2,126.19 509.7,126.18 510.2,126.18 510.7,126.17 511.2,126.16 511.7,126.16 512.2,126.15 512.7,126.14 513.2,126.14 513.7,126.13 514.2,126.12 514.7,126.11 515.2,126.1 515.7,126.1 516.2,126.09 516.7,126.08 517.2,126.07 517.7,126.06 518.2,126.05 518.7,126.04 519.2,126.03 519.7,126.03 520.2,126.02 520.7,126.01 521.2,126 521.7,125.99 522.2,125.98 522.7,125.97 523.2,125.95 523.7,125.94 524.2,125.93 524.7,125.92 525.2,125.91 525.7,125.9 526.2,125.89 526.7,125.88 527.2,125.86 527.7,125.85 528.2,125.84 528.7,125.83 529.2,125.81 529.7,125.8 530.2,125.79 530.7,125.78 531.2,125.76 531.7,125.75 532.2,125.74 532.7,125.72 533.2,125.71 533.7,125.69 534.2,125.68 534.7,125.67 535.2,125.65 535.7,125.64 536.2,125.62 536.7,125.61 537.2,125.59 537.7,125.58 538.2,125.56 538.7,125.54 539.2,125.53 539.7,125.51 540.2,125.5 540.7,125.48 541.2,125.46 541.7,125.45 542.2,125.43 542.7,125.41 543.2,125.4 543.7,125.38 544.2,125.36 544.7,125.34 545.2,125.33 545.7,125.31 546.2,125.29 546.7,125.27 547.2,125.25 547.7,125.24 548.2,125.22 548.7,125.2 549.2,125.18 549.7,125.16 550.2,125.14 550.7,125.12 551.2,125.1 551.7,125.08 552.2,125.06 552.7,125.04 553.2,125.02 553.7,125 554.2,124.98 554.7,124.96 555.2,124.94 555.7,124.92 556.2,124.9 556.7,124.87 557.2,124.85 557.7,124.83 558.2,124.81 558.7,124.79 559.2,124.77 559.7,124.74 560.2,124.72 560.7,124.7 561.2,124.67 561.7,124.65 562.2,124.63 562.7,124.61 563.2,124.58 563.7,124.56 564.2,124.53 564.7,124.51 565.2,124.48 565.7,124.46 566.2,124.43 566.7,124.4 567.2,124.37 567.7,124.34 568.2,124.31 568.7,124.27 569.2,124.23 569.7,124.19 570.2,124.15 570.7,124.1 571.2,124.05 571.7,124 572.2,123.94 572.7,123.88 573.2,123.82 573.7,123.76 574.2,123.69 574.7,123.62 575.2,123.55 575.7,123.47 576.2,123.4 576.7,123.32 577.2,123.24 577.7,123.16 578.2,123.07 578.7,122.99 579.2,122.9 579.7,122.81 580.2,122.72 580.7,122.62 581.2,122.53 581.7,122.43 582.2,122.33 582.7,122.24 583.2,122.14 583.7,122.03 584.2,121.93 584.7,121.83 585.2,121.73 585.7,121.62 586.2,121.52 586.7,121.41 587.2,121.3 587.7,121.2 588.2,121.09 588.7,120.98 589.2,120.87 589.7,120.76 590.2,120.65 590.7,120.55 591.2,120.44 591.7,120.33 592.2,120.22 592.7,120.11 593.2,120 593.7,119.89 594.2,119.78 594.7,119.67 595.2,119.56 595.7,119.45 596.2,119.34 596.7,119.23 597.2,119.11 597.7,119 598.2,118.88 598.7,118.77 599.2,118.65 599.7,118.53 600.2,118.4 600.7,118.28 601.2,118.16 601.7,118.03 602.2,117.9 602.7,117.78 603.2,117.65 603.7,117.51 604.2,117.38 604.7,117.25 605.2,117.11 605.7,116.98 606.2,116.84 606.7,116.7 607.2,116.56 607.7,116.42 608.2,116.28 608.7,116.14 609.2,116 609.7,115.85 610.2,115.71 610.7,115.56 611.2,115.41 611.7,115.26 612.2,115.11 612.7,114.96 613.2,114.81 613.7,114.66 614.2,114.5 614.7,114.35 615.2,114.19 615.7,114.03 616.2,113.88 616.7,113.72 617.2,113.56 617.7,113.4 618.2,113.24 618.7,113.07 619.2,112.91 619.7,112.75 620.2,112.58 620.7,112.42 621.2,112.25 621.7,112.09 622.2,111.92 622.7,111.75 623.2,111.58 623.7,111.41 624.2,111.24 624.7,111.07 625.2,110.9 625.7,110.72 626.2,110.55 626.7,110.37 627.2,110.2 627.7,110.02 628.2,109.83 628.7,109.65 629.2,109.46 629.7,109.27 630.2,109.08 630.7,108.88 631.2,108.69 631.7,108.49 632.2,108.29 632.7,108.09 633.2,107.89 633.7,107.7 634.2,107.52 634.7,107.35 635.2,107.19 635.7,107.06 636.2,106.94 636.2,106.6" fill="none" stroke="#505050" stroke-width="0.65" stroke-linejoin="round"/>
<polyline points="491.2,109.4 491.7,109.36 492.2,109.32 492.7,109.28 493.2,109.24 493.7,109.2 494.2,109.16 494.7,109.11 495.2,109.07 495.7,109.02 496.2,108.98 496.7,108.93 497.2,108.88 497.7,108.83 498.2,108.78 498.7,108.73 499.2,108.68 499.7,108.63 500.2,108.58 500.7,108.53 501.2,108.47 501.7,108.41 502.2,108.36 502.7,108.3 503.2,108.24 503.7,108.18 504.2,108.12 504.7,108.06 505.2,108 505.7,107.93 506.2,107.87 506.7,107.8 507.2,107.74 507.7,107.67 508.2,107.6 508.7,107.53 509.2,107.46 509.7,107.39 510.2,107.32 510.7,107.24 511,107.2" fill="none" stroke="#e258e2" stroke-width="0.7" stroke-linejoin="round"/>
<polyline points="568.6,106.4 582.4,94.6 586.5,106.4" fill="none" stroke="#38e0e0" stroke-width="0.65" />
<rect x="484.5" y="13.5" width="183" height="157.9" fill="none" stroke="#8a8a8a" stroke-width="0.8"/>
<line x1="505.3" y1="171.4" x2="505.3" y2="173.9" stroke="#8a8a8a" stroke-width="0.8" />
<text transform="translate(505.3,178.9)" y="1.51" font-size="4.2" text-anchor="middle" fill="#333" stroke="#333" stroke-width="0.23" font-weight="normal" >−9</text>
<line x1="529.3" y1="171.4" x2="529.3" y2="173.9" stroke="#8a8a8a" stroke-width="0.8" />
<text transform="translate(529.3,178.9)" y="1.51" font-size="4.2" text-anchor="middle" fill="#333" stroke="#333" stroke-width="0.23" font-weight="normal" >−8</text>
<line x1="553.3" y1="171.4" x2="553.3" y2="173.9" stroke="#8a8a8a" stroke-width="0.8" />
<text transform="translate(553.3,178.9)" y="1.51" font-size="4.2" text-anchor="middle" fill="#333" stroke="#333" stroke-width="0.23" font-weight="normal" >−7</text>
<line x1="577.3" y1="171.4" x2="577.3" y2="173.9" stroke="#8a8a8a" stroke-width="0.8" />
<text transform="translate(577.3,178.9)" y="1.51" font-size="4.2" text-anchor="middle" fill="#333" stroke="#333" stroke-width="0.23" font-weight="normal" >−6</text>
<line x1="601.3" y1="171.4" x2="601.3" y2="173.9" stroke="#8a8a8a" stroke-width="0.8" />
<text transform="translate(601.3,178.9)" y="1.51" font-size="4.2" text-anchor="middle" fill="#333" stroke="#333" stroke-width="0.23" font-weight="normal" >−5</text>
<line x1="625.3" y1="171.4" x2="625.3" y2="173.9" stroke="#8a8a8a" stroke-width="0.8" />
<text transform="translate(625.3,178.9)" y="1.51" font-size="4.2" text-anchor="middle" fill="#333" stroke="#333" stroke-width="0.23" font-weight="normal" >−4</text>
<line x1="649.3" y1="171.4" x2="649.3" y2="173.9" stroke="#8a8a8a" stroke-width="0.8" />
<text transform="translate(649.3,178.9)" y="1.51" font-size="4.2" text-anchor="middle" fill="#333" stroke="#333" stroke-width="0.23" font-weight="normal" >−3</text>
<line x1="529.4" y1="11.5" x2="529.4" y2="13.5" stroke="#8a8a8a" stroke-width="0.8" />
<line x1="577.5" y1="11.5" x2="577.5" y2="13.5" stroke="#8a8a8a" stroke-width="0.8" />
<line x1="625.5" y1="11.5" x2="625.5" y2="13.5" stroke="#8a8a8a" stroke-width="0.8" />
<line x1="482" y1="33.2" x2="484.5" y2="33.2" stroke="#8a8a8a" stroke-width="0.8" />
<text transform="translate(477.8,33.2) rotate(-90)" y="1.51" font-size="4.2" text-anchor="middle" fill="#333" stroke="#333" stroke-width="0.23" font-weight="normal" >1.5</text>
<line x1="482" y1="57.7" x2="484.5" y2="57.7" stroke="#8a8a8a" stroke-width="0.8" />
<text transform="translate(477.8,57.7) rotate(-90)" y="1.51" font-size="4.2" text-anchor="middle" fill="#333" stroke="#333" stroke-width="0.23" font-weight="normal" >1.0</text>
<line x1="482" y1="82.3" x2="484.5" y2="82.3" stroke="#8a8a8a" stroke-width="0.8" />
<text transform="translate(477.8,82.3) rotate(-90)" y="1.51" font-size="4.2" text-anchor="middle" fill="#333" stroke="#333" stroke-width="0.23" font-weight="normal" >0.5</text>
<line x1="482" y1="106.7" x2="484.5" y2="106.7" stroke="#8a8a8a" stroke-width="0.8" />
<text transform="translate(477.8,106.7) rotate(-90)" y="1.51" font-size="4.2" text-anchor="middle" fill="#333" stroke="#333" stroke-width="0.23" font-weight="normal" >0.0</text>
<line x1="482" y1="131" x2="484.5" y2="131" stroke="#8a8a8a" stroke-width="0.8" />
<text transform="translate(477.8,131) rotate(-90)" y="1.51" font-size="4.2" text-anchor="middle" fill="#333" stroke="#333" stroke-width="0.23" font-weight="normal" >−0.5</text>
<line x1="482" y1="155.4" x2="484.5" y2="155.4" stroke="#8a8a8a" stroke-width="0.8" />
<text transform="translate(477.8,155.4) rotate(-90)" y="1.51" font-size="4.2" text-anchor="middle" fill="#333" stroke="#333" stroke-width="0.23" font-weight="normal" >−1.0</text>
<text transform="translate(468.4,92.3) rotate(-90)" y="1.37" font-size="3.8" text-anchor="middle" fill="#222" stroke="#222" stroke-width="0.21" font-weight="normal" >Coefficients</text>
<text transform="translate(575.9,188.2)" y="1.37" font-size="3.8" text-anchor="middle" fill="#222" stroke="#222" stroke-width="0.21" font-weight="normal" >Log Lambda</text>
<text transform="translate(488.2,19.2)" y="0.79" font-size="2.2" text-anchor="middle" fill="#555" stroke="#555" stroke-width="0.12" font-weight="normal" >5</text>
<text transform="translate(488.2,30.9)" y="0.79" font-size="2.2" text-anchor="middle" fill="#555" stroke="#555" stroke-width="0.12" font-weight="normal" >10</text>
<text transform="translate(488.2,49.2)" y="0.79" font-size="2.2" text-anchor="middle" fill="#555" stroke="#555" stroke-width="0.12" font-weight="normal" >16</text>
<text transform="translate(488.2,53.4)" y="0.79" font-size="2.2" text-anchor="middle" fill="#555" stroke="#555" stroke-width="0.12" font-weight="normal" >4</text>
<text transform="translate(488.2,63.4)" y="0.79" font-size="2.2" text-anchor="middle" fill="#555" stroke="#555" stroke-width="0.12" font-weight="normal" >2</text>
<text transform="translate(488.2,65.1)" y="0.79" font-size="2.2" text-anchor="middle" fill="#555" stroke="#555" stroke-width="0.12" font-weight="normal" >3</text>
<text transform="translate(488.2,109.4)" y="0.79" font-size="2.2" text-anchor="middle" fill="#555" stroke="#555" stroke-width="0.12" font-weight="normal" >24</text>
<text transform="translate(488.2,119.6)" y="0.79" font-size="2.2" text-anchor="middle" fill="#555" stroke="#555" stroke-width="0.12" font-weight="normal" >13</text>
<text transform="translate(488.2,126.3)" y="0.79" font-size="2.2" text-anchor="middle" fill="#555" stroke="#555" stroke-width="0.12" font-weight="normal" >8</text>
<text transform="translate(488.2,154.5)" y="0.79" font-size="2.2" text-anchor="middle" fill="#555" stroke="#555" stroke-width="0.12" font-weight="normal" >18</text>
<text transform="translate(488.2,165.8)" y="0.79" font-size="2.2" text-anchor="middle" fill="#555" stroke="#555" stroke-width="0.12" font-weight="normal" >7</text>
<text transform="translate(488.2,105.5)" y="0.72" font-size="2" text-anchor="middle" fill="#555" stroke="#555" stroke-width="0.11" font-weight="normal" >1</text>
<text transform="translate(488.2,106.5)" y="0.72" font-size="2" text-anchor="middle" fill="#555" stroke="#555" stroke-width="0.11" font-weight="normal" >1</text>
<text transform="translate(488.2,107.5)" y="0.72" font-size="2" text-anchor="middle" fill="#555" stroke="#555" stroke-width="0.11" font-weight="normal" >1</text>
<line x1="491.5" y1="229.48" x2="491.5" y2="317.4" stroke="#bdbdbd" stroke-width="0.7" />
<line x1="490" y1="229.48" x2="493" y2="229.48" stroke="#bdbdbd" stroke-width="0.6" />
<line x1="490" y1="317.4" x2="493" y2="317.4" stroke="#bdbdbd" stroke-width="0.6" />
<line x1="493.85" y1="230.17" x2="493.85" y2="317.73" stroke="#bdbdbd" stroke-width="0.7" />
<line x1="492.35" y1="230.17" x2="495.35" y2="230.17" stroke="#bdbdbd" stroke-width="0.6" />
<line x1="492.35" y1="317.73" x2="495.35" y2="317.73" stroke="#bdbdbd" stroke-width="0.6" />
<line x1="496.21" y1="230.85" x2="496.21" y2="318.05" stroke="#bdbdbd" stroke-width="0.7" />
<line x1="494.71" y1="230.85" x2="497.71" y2="230.85" stroke="#bdbdbd" stroke-width="0.6" />
<line x1="494.71" y1="318.05" x2="497.71" y2="318.05" stroke="#bdbdbd" stroke-width="0.6" />
<line x1="498.56" y1="231.54" x2="498.56" y2="318.37" stroke="#bdbdbd" stroke-width="0.7" />
<line x1="497.06" y1="231.54" x2="500.06" y2="231.54" stroke="#bdbdbd" stroke-width="0.6" />
<line x1="497.06" y1="318.37" x2="500.06" y2="318.37" stroke="#bdbdbd" stroke-width="0.6" />
<line x1="500.92" y1="232.22" x2="500.92" y2="318.7" stroke="#bdbdbd" stroke-width="0.7" />
<line x1="499.42" y1="232.22" x2="502.42" y2="232.22" stroke="#bdbdbd" stroke-width="0.6" />
<line x1="499.42" y1="318.7" x2="502.42" y2="318.7" stroke="#bdbdbd" stroke-width="0.6" />
<line x1="503.27" y1="232.91" x2="503.27" y2="319.02" stroke="#bdbdbd" stroke-width="0.7" />
<line x1="501.77" y1="232.91" x2="504.77" y2="232.91" stroke="#bdbdbd" stroke-width="0.6" />
<line x1="501.77" y1="319.02" x2="504.77" y2="319.02" stroke="#bdbdbd" stroke-width="0.6" />
<line x1="505.62" y1="233.81" x2="505.62" y2="319.26" stroke="#bdbdbd" stroke-width="0.7" />
<line x1="504.12" y1="233.81" x2="507.12" y2="233.81" stroke="#bdbdbd" stroke-width="0.6" />
<line x1="504.12" y1="319.26" x2="507.12" y2="319.26" stroke="#bdbdbd" stroke-width="0.6" />
<line x1="507.98" y1="234.81" x2="507.98" y2="319.44" stroke="#bdbdbd" stroke-width="0.7" />
<line x1="506.48" y1="234.81" x2="509.48" y2="234.81" stroke="#bdbdbd" stroke-width="0.6" />
<line x1="506.48" y1="319.44" x2="509.48" y2="319.44" stroke="#bdbdbd" stroke-width="0.6" />
<line x1="510.33" y1="235.81" x2="510.33" y2="319.63" stroke="#bdbdbd" stroke-width="0.7" />
<line x1="508.83" y1="235.81" x2="511.83" y2="235.81" stroke="#bdbdbd" stroke-width="0.6" />
<line x1="508.83" y1="319.63" x2="511.83" y2="319.63" stroke="#bdbdbd" stroke-width="0.6" />
<line x1="512.69" y1="236.8" x2="512.69" y2="319.82" stroke="#bdbdbd" stroke-width="0.7" />
<line x1="511.19" y1="236.8" x2="514.19" y2="236.8" stroke="#bdbdbd" stroke-width="0.6" />
<line x1="511.19" y1="319.82" x2="514.19" y2="319.82" stroke="#bdbdbd" stroke-width="0.6" />
<line x1="515.04" y1="237.8" x2="515.04" y2="320.01" stroke="#bdbdbd" stroke-width="0.7" />
<line x1="513.54" y1="237.8" x2="516.54" y2="237.8" stroke="#bdbdbd" stroke-width="0.6" />
<line x1="513.54" y1="320.01" x2="516.54" y2="320.01" stroke="#bdbdbd" stroke-width="0.6" />
<line x1="517.4" y1="238.79" x2="517.4" y2="320.2" stroke="#bdbdbd" stroke-width="0.7" />
<line x1="515.9" y1="238.79" x2="518.9" y2="238.79" stroke="#bdbdbd" stroke-width="0.6" />
<line x1="515.9" y1="320.2" x2="518.9" y2="320.2" stroke="#bdbdbd" stroke-width="0.6" />
<line x1="519.75" y1="239.91" x2="519.75" y2="320.61" stroke="#bdbdbd" stroke-width="0.7" />
<line x1="518.25" y1="239.91" x2="521.25" y2="239.91" stroke="#bdbdbd" stroke-width="0.6" />
<line x1="518.25" y1="320.61" x2="521.25" y2="320.61" stroke="#bdbdbd" stroke-width="0.6" />
<line x1="522.1" y1="241.11" x2="522.1" y2="321.13" stroke="#bdbdbd" stroke-width="0.7" />
<line x1="520.6" y1="241.11" x2="523.6" y2="241.11" stroke="#bdbdbd" stroke-width="0.6" />
<line x1="520.6" y1="321.13" x2="523.6" y2="321.13" stroke="#bdbdbd" stroke-width="0.6" />
<line x1="524.46" y1="242.3" x2="524.46" y2="321.65" stroke="#bdbdbd" stroke-width="0.7" />
<line x1="522.96" y1="242.3" x2="525.96" y2="242.3" stroke="#bdbdbd" stroke-width="0.6" />
<line x1="522.96" y1="321.65" x2="525.96" y2="321.65" stroke="#bdbdbd" stroke-width="0.6" />
<line x1="526.81" y1="243.49" x2="526.81" y2="322.17" stroke="#bdbdbd" stroke-width="0.7" />
<line x1="525.31" y1="243.49" x2="528.31" y2="243.49" stroke="#bdbdbd" stroke-width="0.6" />
<line x1="525.31" y1="322.17" x2="528.31" y2="322.17" stroke="#bdbdbd" stroke-width="0.6" />
<line x1="529.17" y1="244.68" x2="529.17" y2="322.69" stroke="#bdbdbd" stroke-width="0.7" />
<line x1="527.67" y1="244.68" x2="530.67" y2="244.68" stroke="#bdbdbd" stroke-width="0.6" />
<line x1="527.67" y1="322.69" x2="530.67" y2="322.69" stroke="#bdbdbd" stroke-width="0.6" />
<line x1="531.52" y1="245.88" x2="531.52" y2="323.21" stroke="#bdbdbd" stroke-width="0.7" />
<line x1="530.02" y1="245.88" x2="533.02" y2="245.88" stroke="#bdbdbd" stroke-width="0.6" />
<line x1="530.02" y1="323.21" x2="533.02" y2="323.21" stroke="#bdbdbd" stroke-width="0.6" />
<line x1="533.88" y1="247.22" x2="533.88" y2="323.96" stroke="#bdbdbd" stroke-width="0.7" />
<line x1="532.38" y1="247.22" x2="535.38" y2="247.22" stroke="#bdbdbd" stroke-width="0.6" />
<line x1="532.38" y1="323.96" x2="535.38" y2="323.96" stroke="#bdbdbd" stroke-width="0.6" />
<line x1="536.23" y1="248.7" x2="536.23" y2="324.86" stroke="#bdbdbd" stroke-width="0.7" />
<line x1="534.73" y1="248.7" x2="537.73" y2="248.7" stroke="#bdbdbd" stroke-width="0.6" />
<line x1="534.73" y1="324.86" x2="537.73" y2="324.86" stroke="#bdbdbd" stroke-width="0.6" />
<line x1="538.58" y1="250.18" x2="538.58" y2="325.76" stroke="#bdbdbd" stroke-width="0.7" />
<line x1="537.08" y1="250.18" x2="540.08" y2="250.18" stroke="#bdbdbd" stroke-width="0.6" />
<line x1="537.08" y1="325.76" x2="540.08" y2="325.76" stroke="#bdbdbd" stroke-width="0.6" />
<line x1="540.94" y1="251.65" x2="540.94" y2="326.65" stroke="#bdbdbd" stroke-width="0.7" />
<line x1="539.44" y1="251.65" x2="542.44" y2="251.65" stroke="#bdbdbd" stroke-width="0.6" />
<line x1="539.44" y1="326.65" x2="542.44" y2="326.65" stroke="#bdbdbd" stroke-width="0.6" />
<line x1="543.29" y1="253.13" x2="543.29" y2="327.55" stroke="#bdbdbd" stroke-width="0.7" />
<line x1="541.79" y1="253.13" x2="544.79" y2="253.13" stroke="#bdbdbd" stroke-width="0.6" />
<line x1="541.79" y1="327.55" x2="544.79" y2="327.55" stroke="#bdbdbd" stroke-width="0.6" />
<line x1="545.65" y1="255.21" x2="545.65" y2="328.78" stroke="#bdbdbd" stroke-width="0.7" />
<line x1="544.15" y1="255.21" x2="547.15" y2="255.21" stroke="#bdbdbd" stroke-width="0.6" />
<line x1="544.15" y1="328.78" x2="547.15" y2="328.78" stroke="#bdbdbd" stroke-width="0.6" />
<line x1="548" y1="261.1" x2="548" y2="333.1" stroke="#bdbdbd" stroke-width="0.7" />
<line x1="546.5" y1="261.1" x2="549.5" y2="261.1" stroke="#bdbdbd" stroke-width="0.6" />
<line x1="546.5" y1="333.1" x2="549.5" y2="333.1" stroke="#bdbdbd" stroke-width="0.6" />
<line x1="550.35" y1="268.48" x2="550.35" y2="338.91" stroke="#bdbdbd" stroke-width="0.7" />
<line x1="548.85" y1="268.48" x2="551.85" y2="268.48" stroke="#bdbdbd" stroke-width="0.6" />
<line x1="548.85" y1="338.91" x2="551.85" y2="338.91" stroke="#bdbdbd" stroke-width="0.6" />
<line x1="552.71" y1="272.91" x2="552.71" y2="341.77" stroke="#bdbdbd" stroke-width="0.7" />
<line x1="551.21" y1="272.91" x2="554.21" y2="272.91" stroke="#bdbdbd" stroke-width="0.6" />
<line x1="551.21" y1="341.77" x2="554.21" y2="341.77" stroke="#bdbdbd" stroke-width="0.6" />
<line x1="555.06" y1="275.65" x2="555.06" y2="342.94" stroke="#bdbdbd" stroke-width="0.7" />
<line x1="553.56" y1="275.65" x2="556.56" y2="275.65" stroke="#bdbdbd" stroke-width="0.6" />
<line x1="553.56" y1="342.94" x2="556.56" y2="342.94" stroke="#bdbdbd" stroke-width="0.6" />
<line x1="557.42" y1="278.39" x2="557.42" y2="344.11" stroke="#bdbdbd" stroke-width="0.7" />
<line x1="555.92" y1="278.39" x2="558.92" y2="278.39" stroke="#bdbdbd" stroke-width="0.6" />
<line x1="555.92" y1="344.11" x2="558.92" y2="344.11" stroke="#bdbdbd" stroke-width="0.6" />
<line x1="559.77" y1="281.14" x2="559.77" y2="345.29" stroke="#bdbdbd" stroke-width="0.7" />
<line x1="558.27" y1="281.14" x2="561.27" y2="281.14" stroke="#bdbdbd" stroke-width="0.6" />
<line x1="558.27" y1="345.29" x2="561.27" y2="345.29" stroke="#bdbdbd" stroke-width="0.6" />
<line x1="562.12" y1="285.67" x2="562.12" y2="348.26" stroke="#bdbdbd" stroke-width="0.7" />
<line x1="560.62" y1="285.67" x2="563.62" y2="285.67" stroke="#bdbdbd" stroke-width="0.6" />
<line x1="560.62" y1="348.26" x2="563.62" y2="348.26" stroke="#bdbdbd" stroke-width="0.6" />
<line x1="564.48" y1="292.62" x2="564.48" y2="353.83" stroke="#bdbdbd" stroke-width="0.7" />
<line x1="562.98" y1="292.62" x2="565.98" y2="292.62" stroke="#bdbdbd" stroke-width="0.6" />
<line x1="562.98" y1="353.83" x2="565.98" y2="353.83" stroke="#bdbdbd" stroke-width="0.6" />
<line x1="566.83" y1="297" x2="566.83" y2="356.97" stroke="#bdbdbd" stroke-width="0.7" />
<line x1="565.33" y1="297" x2="568.33" y2="297" stroke="#bdbdbd" stroke-width="0.6" />
<line x1="565.33" y1="356.97" x2="568.33" y2="356.97" stroke="#bdbdbd" stroke-width="0.6" />
<line x1="569.19" y1="299.71" x2="569.19" y2="358.44" stroke="#bdbdbd" stroke-width="0.7" />
<line x1="567.69" y1="299.71" x2="570.69" y2="299.71" stroke="#bdbdbd" stroke-width="0.6" />
<line x1="567.69" y1="358.44" x2="570.69" y2="358.44" stroke="#bdbdbd" stroke-width="0.6" />
<line x1="571.54" y1="302.43" x2="571.54" y2="359.9" stroke="#bdbdbd" stroke-width="0.7" />
<line x1="570.04" y1="302.43" x2="573.04" y2="302.43" stroke="#bdbdbd" stroke-width="0.6" />
<line x1="570.04" y1="359.9" x2="573.04" y2="359.9" stroke="#bdbdbd" stroke-width="0.6" />
<line x1="573.9" y1="305.14" x2="573.9" y2="361.37" stroke="#bdbdbd" stroke-width="0.7" />
<line x1="572.4" y1="305.14" x2="575.4" y2="305.14" stroke="#bdbdbd" stroke-width="0.6" />
<line x1="572.4" y1="361.37" x2="575.4" y2="361.37" stroke="#bdbdbd" stroke-width="0.6" />
<line x1="576.25" y1="307.85" x2="576.25" y2="362.84" stroke="#bdbdbd" stroke-width="0.7" />
<line x1="574.75" y1="307.85" x2="577.75" y2="307.85" stroke="#bdbdbd" stroke-width="0.6" />
<line x1="574.75" y1="362.84" x2="577.75" y2="362.84" stroke="#bdbdbd" stroke-width="0.6" />
<line x1="578.6" y1="310.57" x2="578.6" y2="364.31" stroke="#bdbdbd" stroke-width="0.7" />
<line x1="577.1" y1="310.57" x2="580.1" y2="310.57" stroke="#bdbdbd" stroke-width="0.6" />
<line x1="577.1" y1="364.31" x2="580.1" y2="364.31" stroke="#bdbdbd" stroke-width="0.6" />
<line x1="580.96" y1="313.57" x2="580.96" y2="365.61" stroke="#bdbdbd" stroke-width="0.7" />
<line x1="579.46" y1="313.57" x2="582.46" y2="313.57" stroke="#bdbdbd" stroke-width="0.6" />
<line x1="579.46" y1="365.61" x2="582.46" y2="365.61" stroke="#bdbdbd" stroke-width="0.6" />
<line x1="583.31" y1="316.96" x2="583.31" y2="366.64" stroke="#bdbdbd" stroke-width="0.7" />
<line x1="581.81" y1="316.96" x2="584.81" y2="316.96" stroke="#bdbdbd" stroke-width="0.6" />
<line x1="581.81" y1="366.64" x2="584.81" y2="366.64" stroke="#bdbdbd" stroke-width="0.6" />
<line x1="585.67" y1="320.35" x2="585.67" y2="367.68" stroke="#bdbdbd" stroke-width="0.7" />
<line x1="584.17" y1="320.35" x2="587.17" y2="320.35" stroke="#bdbdbd" stroke-width="0.6" />
<line x1="584.17" y1="367.68" x2="587.17" y2="367.68" stroke="#bdbdbd" stroke-width="0.6" />
<line x1="588.02" y1="323.74" x2="588.02" y2="368.71" stroke="#bdbdbd" stroke-width="0.7" />
<line x1="586.52" y1="323.74" x2="589.52" y2="323.74" stroke="#bdbdbd" stroke-width="0.6" />
<line x1="586.52" y1="368.71" x2="589.52" y2="368.71" stroke="#bdbdbd" stroke-width="0.6" />
<line x1="590.38" y1="327.12" x2="590.38" y2="369.75" stroke="#bdbdbd" stroke-width="0.7" />
<line x1="588.88" y1="327.12" x2="591.88" y2="327.12" stroke="#bdbdbd" stroke-width="0.6" />
<line x1="588.88" y1="369.75" x2="591.88" y2="369.75" stroke="#bdbdbd" stroke-width="0.6" />
<line x1="592.73" y1="330.18" x2="592.73" y2="370.69" stroke="#bdbdbd" stroke-width="0.7" />
<line x1="591.23" y1="330.18" x2="594.23" y2="330.18" stroke="#bdbdbd" stroke-width="0.6" />
<line x1="591.23" y1="370.69" x2="594.23" y2="370.69" stroke="#bdbdbd" stroke-width="0.6" />
<line x1="595.08" y1="333.02" x2="595.08" y2="371.5" stroke="#bdbdbd" stroke-width="0.7" />
<line x1="593.58" y1="333.02" x2="596.58" y2="333.02" stroke="#bdbdbd" stroke-width="0.6" />
<line x1="593.58" y1="371.5" x2="596.58" y2="371.5" stroke="#bdbdbd" stroke-width="0.6" />
<line x1="597.44" y1="335.87" x2="597.44" y2="372.31" stroke="#bdbdbd" stroke-width="0.7" />
<line x1="595.94" y1="335.87" x2="598.94" y2="335.87" stroke="#bdbdbd" stroke-width="0.6" />
<line x1="595.94" y1="372.31" x2="598.94" y2="372.31" stroke="#bdbdbd" stroke-width="0.6" />
<line x1="599.79" y1="338.72" x2="599.79" y2="373.13" stroke="#bdbdbd" stroke-width="0.7" />
<line x1="598.29" y1="338.72" x2="601.29" y2="338.72" stroke="#bdbdbd" stroke-width="0.6" />
<line x1="598.29" y1="373.13" x2="601.29" y2="373.13" stroke="#bdbdbd" stroke-width="0.6" />
<line x1="602.15" y1="341.56" x2="602.15" y2="373.94" stroke="#bdbdbd" stroke-width="0.7" />
<line x1="600.65" y1="341.56" x2="603.65" y2="341.56" stroke="#bdbdbd" stroke-width="0.6" />
<line x1="600.65" y1="373.94" x2="603.65" y2="373.94" stroke="#bdbdbd" stroke-width="0.6" />
<line x1="604.5" y1="344.41" x2="604.5" y2="374.75" stroke="#bdbdbd" stroke-width="0.7" />
<line x1="603" y1="344.41" x2="606" y2="344.41" stroke="#bdbdbd" stroke-width="0.6" />
<line x1="603" y1="374.75" x2="606" y2="374.75" stroke="#bdbdbd" stroke-width="0.6" />
<line x1="606.85" y1="347.25" x2="606.85" y2="375.57" stroke="#bdbdbd" stroke-width="0.7" />
<line x1="605.35" y1="347.25" x2="608.35" y2="347.25" stroke="#bdbdbd" stroke-width="0.6" />
<line x1="605.35" y1="375.57" x2="608.35" y2="375.57" stroke="#bdbdbd" stroke-width="0.6" />
<line x1="609.21" y1="350.1" x2="609.21" y2="376.38" stroke="#bdbdbd" stroke-width="0.7" />
<line x1="607.71" y1="350.1" x2="610.71" y2="350.1" stroke="#bdbdbd" stroke-width="0.6" />
<line x1="607.71" y1="376.38" x2="610.71" y2="376.38" stroke="#bdbdbd" stroke-width="0.6" />
<line x1="611.56" y1="351.21" x2="611.56" y2="376.61" stroke="#bdbdbd" stroke-width="0.7" />
<line x1="610.06" y1="351.21" x2="613.06" y2="351.21" stroke="#bdbdbd" stroke-width="0.6" />
<line x1="610.06" y1="376.61" x2="613.06" y2="376.61" stroke="#bdbdbd" stroke-width="0.6" />
<line x1="613.92" y1="351.65" x2="613.92" y2="376.73" stroke="#bdbdbd" stroke-width="0.7" />
<line x1="612.42" y1="351.65" x2="615.42" y2="351.65" stroke="#bdbdbd" stroke-width="0.6" />
<line x1="612.42" y1="376.73" x2="615.42" y2="376.73" stroke="#bdbdbd" stroke-width="0.6" />
<line x1="616.27" y1="351.63" x2="616.27" y2="376.39" stroke="#bdbdbd" stroke-width="0.7" />
<line x1="614.77" y1="351.63" x2="617.77" y2="351.63" stroke="#bdbdbd" stroke-width="0.6" />
<line x1="614.77" y1="376.39" x2="617.77" y2="376.39" stroke="#bdbdbd" stroke-width="0.6" />
<line x1="618.62" y1="351.59" x2="618.62" y2="376.04" stroke="#bdbdbd" stroke-width="0.7" />
<line x1="617.12" y1="351.59" x2="620.12" y2="351.59" stroke="#bdbdbd" stroke-width="0.6" />
<line x1="617.12" y1="376.04" x2="620.12" y2="376.04" stroke="#bdbdbd" stroke-width="0.6" />
<line x1="620.98" y1="351.56" x2="620.98" y2="375.69" stroke="#bdbdbd" stroke-width="0.7" />
<line x1="619.48" y1="351.56" x2="622.48" y2="351.56" stroke="#bdbdbd" stroke-width="0.6" />
<line x1="619.48" y1="375.69" x2="622.48" y2="375.69" stroke="#bdbdbd" stroke-width="0.6" />
<line x1="623.33" y1="351.52" x2="623.33" y2="375.34" stroke="#bdbdbd" stroke-width="0.7" />
<line x1="621.83" y1="351.52" x2="624.83" y2="351.52" stroke="#bdbdbd" stroke-width="0.6" />
<line x1="621.83" y1="375.34" x2="624.83" y2="375.34" stroke="#bdbdbd" stroke-width="0.6" />
<line x1="625.69" y1="351" x2="625.69" y2="374.64" stroke="#bdbdbd" stroke-width="0.7" />
<line x1="624.19" y1="351" x2="627.19" y2="351" stroke="#bdbdbd" stroke-width="0.6" />
<line x1="624.19" y1="374.64" x2="627.19" y2="374.64" stroke="#bdbdbd" stroke-width="0.6" />
<line x1="628.04" y1="348.88" x2="628.04" y2="372.64" stroke="#bdbdbd" stroke-width="0.7" />
<line x1="626.54" y1="348.88" x2="629.54" y2="348.88" stroke="#bdbdbd" stroke-width="0.6" />
<line x1="626.54" y1="372.64" x2="629.54" y2="372.64" stroke="#bdbdbd" stroke-width="0.6" />
<line x1="630.4" y1="345.88" x2="630.4" y2="369.77" stroke="#bdbdbd" stroke-width="0.7" />
<line x1="628.9" y1="345.88" x2="631.9" y2="345.88" stroke="#bdbdbd" stroke-width="0.6" />
<line x1="628.9" y1="369.77" x2="631.9" y2="369.77" stroke="#bdbdbd" stroke-width="0.6" />
<line x1="632.75" y1="342.1" x2="632.75" y2="366.12" stroke="#bdbdbd" stroke-width="0.7" />
<line x1="631.25" y1="342.1" x2="634.25" y2="342.1" stroke="#bdbdbd" stroke-width="0.6" />
<line x1="631.25" y1="366.12" x2="634.25" y2="366.12" stroke="#bdbdbd" stroke-width="0.6" />
<line x1="635.1" y1="338.15" x2="635.1" y2="362.29" stroke="#bdbdbd" stroke-width="0.7" />
<line x1="633.6" y1="338.15" x2="636.6" y2="338.15" stroke="#bdbdbd" stroke-width="0.6" />
<line x1="633.6" y1="362.29" x2="636.6" y2="362.29" stroke="#bdbdbd" stroke-width="0.6" />
<line x1="637.46" y1="334.25" x2="637.46" y2="358.51" stroke="#bdbdbd" stroke-width="0.7" />
<line x1="635.96" y1="334.25" x2="638.96" y2="334.25" stroke="#bdbdbd" stroke-width="0.6" />
<line x1="635.96" y1="358.51" x2="638.96" y2="358.51" stroke="#bdbdbd" stroke-width="0.6" />
<line x1="639.81" y1="330.72" x2="639.81" y2="355.11" stroke="#bdbdbd" stroke-width="0.7" />
<line x1="638.31" y1="330.72" x2="641.31" y2="330.72" stroke="#bdbdbd" stroke-width="0.6" />
<line x1="638.31" y1="355.11" x2="641.31" y2="355.11" stroke="#bdbdbd" stroke-width="0.6" />
<line x1="642.17" y1="327.09" x2="642.17" y2="351.55" stroke="#bdbdbd" stroke-width="0.7" />
<line x1="640.67" y1="327.09" x2="643.67" y2="327.09" stroke="#bdbdbd" stroke-width="0.6" />
<line x1="640.67" y1="351.55" x2="643.67" y2="351.55" stroke="#bdbdbd" stroke-width="0.6" />
<line x1="644.52" y1="322.89" x2="644.52" y2="347.41" stroke="#bdbdbd" stroke-width="0.7" />
<line x1="643.02" y1="322.89" x2="646.02" y2="322.89" stroke="#bdbdbd" stroke-width="0.6" />
<line x1="643.02" y1="347.41" x2="646.02" y2="347.41" stroke="#bdbdbd" stroke-width="0.6" />
<line x1="646.88" y1="318.73" x2="646.88" y2="343.32" stroke="#bdbdbd" stroke-width="0.7" />
<line x1="645.38" y1="318.73" x2="648.38" y2="318.73" stroke="#bdbdbd" stroke-width="0.6" />
<line x1="645.38" y1="343.32" x2="648.38" y2="343.32" stroke="#bdbdbd" stroke-width="0.6" />
<line x1="649.23" y1="314.69" x2="649.23" y2="339.34" stroke="#bdbdbd" stroke-width="0.7" />
<line x1="647.73" y1="314.69" x2="650.73" y2="314.69" stroke="#bdbdbd" stroke-width="0.6" />
<line x1="647.73" y1="339.34" x2="650.73" y2="339.34" stroke="#bdbdbd" stroke-width="0.6" />
<line x1="651.58" y1="310.55" x2="651.58" y2="335.26" stroke="#bdbdbd" stroke-width="0.7" />
<line x1="650.08" y1="310.55" x2="653.08" y2="310.55" stroke="#bdbdbd" stroke-width="0.6" />
<line x1="650.08" y1="335.26" x2="653.08" y2="335.26" stroke="#bdbdbd" stroke-width="0.6" />
<line x1="653.94" y1="306.1" x2="653.94" y2="330.88" stroke="#bdbdbd" stroke-width="0.7" />
<line x1="652.44" y1="306.1" x2="655.44" y2="306.1" stroke="#bdbdbd" stroke-width="0.6" />
<line x1="652.44" y1="330.88" x2="655.44" y2="330.88" stroke="#bdbdbd" stroke-width="0.6" />
<line x1="656.29" y1="301.73" x2="656.29" y2="326.57" stroke="#bdbdbd" stroke-width="0.7" />
<line x1="654.79" y1="301.73" x2="657.79" y2="301.73" stroke="#bdbdbd" stroke-width="0.6" />
<line x1="654.79" y1="326.57" x2="657.79" y2="326.57" stroke="#bdbdbd" stroke-width="0.6" />
<line x1="658.65" y1="297.62" x2="658.65" y2="322.53" stroke="#bdbdbd" stroke-width="0.7" />
<line x1="657.15" y1="297.62" x2="660.15" y2="297.62" stroke="#bdbdbd" stroke-width="0.6" />
<line x1="657.15" y1="322.53" x2="660.15" y2="322.53" stroke="#bdbdbd" stroke-width="0.6" />
<line x1="661" y1="293.51" x2="661" y2="318.49" stroke="#bdbdbd" stroke-width="0.7" />
<line x1="659.5" y1="293.51" x2="662.5" y2="293.51" stroke="#bdbdbd" stroke-width="0.6" />
<line x1="659.5" y1="318.49" x2="662.5" y2="318.49" stroke="#bdbdbd" stroke-width="0.6" />
<circle cx="491.5" cy="273.44" r="0.6" fill="#e84444"/>
<circle cx="493.85" cy="273.95" r="0.6" fill="#e84444"/>
<circle cx="496.21" cy="274.45" r="0.6" fill="#e84444"/>
<circle cx="498.56" cy="274.96" r="0.6" fill="#e84444"/>
<circle cx="500.92" cy="275.46" r="0.6" fill="#e84444"/>
<circle cx="503.27" cy="275.97" r="0.6" fill="#e84444"/>
<circle cx="505.62" cy="276.53" r="0.6" fill="#e84444"/>
<circle cx="507.98" cy="277.13" r="0.6" fill="#e84444"/>
<circle cx="510.33" cy="277.72" r="0.6" fill="#e84444"/>
<circle cx="512.69" cy="278.31" r="0.6" fill="#e84444"/>
<circle cx="515.04" cy="278.9" r="0.6" fill="#e84444"/>
<circle cx="517.4" cy="279.5" r="0.6" fill="#e84444"/>
<circle cx="519.75" cy="280.26" r="0.6" fill="#e84444"/>
<circle cx="522.1" cy="281.12" r="0.6" fill="#e84444"/>
<circle cx="524.46" cy="281.98" r="0.6" fill="#e84444"/>
<circle cx="526.81" cy="282.83" r="0.6" fill="#e84444"/>
<circle cx="529.17" cy="283.69" r="0.6" fill="#e84444"/>
<circle cx="531.52" cy="284.54" r="0.6" fill="#e84444"/>
<circle cx="533.88" cy="285.59" r="0.6" fill="#e84444"/>
<circle cx="536.23" cy="286.78" r="0.6" fill="#e84444"/>
<circle cx="538.58" cy="287.97" r="0.6" fill="#e84444"/>
<circle cx="540.94" cy="289.15" r="0.6" fill="#e84444"/>
<circle cx="543.29" cy="290.34" r="0.6" fill="#e84444"/>
<circle cx="545.65" cy="291.99" r="0.6" fill="#e84444"/>
<circle cx="548" cy="297.1" r="0.6" fill="#e84444"/>
<circle cx="550.35" cy="303.7" r="0.6" fill="#e84444"/>
<circle cx="552.71" cy="307.34" r="0.6" fill="#e84444"/>
<circle cx="555.06" cy="309.3" r="0.6" fill="#e84444"/>
<circle cx="557.42" cy="311.25" r="0.6" fill="#e84444"/>
<circle cx="559.77" cy="313.21" r="0.6" fill="#e84444"/>
<circle cx="562.12" cy="316.96" r="0.6" fill="#e84444"/>
<circle cx="564.48" cy="323.22" r="0.6" fill="#e84444"/>
<circle cx="566.83" cy="326.98" r="0.6" fill="#e84444"/>
<circle cx="569.19" cy="329.07" r="0.6" fill="#e84444"/>
<circle cx="571.54" cy="331.17" r="0.6" fill="#e84444"/>
<circle cx="573.9" cy="333.26" r="0.6" fill="#e84444"/>
<circle cx="576.25" cy="335.35" r="0.6" fill="#e84444"/>
<circle cx="578.6" cy="337.44" r="0.6" fill="#e84444"/>
<circle cx="580.96" cy="339.59" r="0.6" fill="#e84444"/>
<circle cx="583.31" cy="341.8" r="0.6" fill="#e84444"/>
<circle cx="585.67" cy="344.01" r="0.6" fill="#e84444"/>
<circle cx="588.02" cy="346.22" r="0.6" fill="#e84444"/>
<circle cx="590.38" cy="348.44" r="0.6" fill="#e84444"/>
<circle cx="592.73" cy="350.43" r="0.6" fill="#e84444"/>
<circle cx="595.08" cy="352.26" r="0.6" fill="#e84444"/>
<circle cx="597.44" cy="354.09" r="0.6" fill="#e84444"/>
<circle cx="599.79" cy="355.92" r="0.6" fill="#e84444"/>
<circle cx="602.15" cy="357.75" r="0.6" fill="#e84444"/>
<circle cx="604.5" cy="359.58" r="0.6" fill="#e84444"/>
<circle cx="606.85" cy="361.41" r="0.6" fill="#e84444"/>
<circle cx="609.21" cy="363.24" r="0.6" fill="#e84444"/>
<circle cx="611.56" cy="363.91" r="0.6" fill="#e84444"/>
<circle cx="613.92" cy="364.19" r="0.6" fill="#e84444"/>
<circle cx="616.27" cy="364.01" r="0.6" fill="#e84444"/>
<circle cx="618.62" cy="363.82" r="0.6" fill="#e84444"/>
<circle cx="620.98" cy="363.62" r="0.6" fill="#e84444"/>
<circle cx="623.33" cy="363.43" r="0.6" fill="#e84444"/>
<circle cx="625.69" cy="362.82" r="0.6" fill="#e84444"/>
<circle cx="628.04" cy="360.76" r="0.6" fill="#e84444"/>
<circle cx="630.4" cy="357.82" r="0.6" fill="#e84444"/>
<circle cx="632.75" cy="354.11" r="0.6" fill="#e84444"/>
<circle cx="635.1" cy="350.22" r="0.6" fill="#e84444"/>
<circle cx="637.46" cy="346.38" r="0.6" fill="#e84444"/>
<circle cx="639.81" cy="342.91" r="0.6" fill="#e84444"/>
<circle cx="642.17" cy="339.32" r="0.6" fill="#e84444"/>
<circle cx="644.52" cy="335.15" r="0.6" fill="#e84444"/>
<circle cx="646.88" cy="331.02" r="0.6" fill="#e84444"/>
<circle cx="649.23" cy="327.01" r="0.6" fill="#e84444"/>
<circle cx="651.58" cy="322.91" r="0.6" fill="#e84444"/>
<circle cx="653.94" cy="318.49" r="0.6" fill="#e84444"/>
<circle cx="656.29" cy="314.15" r="0.6" fill="#e84444"/>
<circle cx="658.65" cy="310.07" r="0.6" fill="#e84444"/>
<circle cx="661" cy="306" r="0.6" fill="#e84444"/>
<line x1="614.8" y1="223.3" x2="614.8" y2="382.8" stroke="#bbb" stroke-width="0.6" stroke-dasharray="2,1.5"/>
<line x1="635.5" y1="223.3" x2="635.5" y2="382.8" stroke="#bbb" stroke-width="0.6" stroke-dasharray="2,1.5"/>
<rect x="485.6" y="223.3" width="182.1" height="159.5" fill="none" stroke="#8a8a8a" stroke-width="0.8"/>
<line x1="499.58" y1="382.8" x2="499.58" y2="385.8" stroke="#8a8a8a" stroke-width="0.8" />
<text transform="translate(499.58,392.2)" y="1.87" font-size="5.2" text-anchor="middle" fill="#333" stroke="#333" stroke-width="0.29" font-weight="normal" >−9</text>
<line x1="524.6" y1="382.8" x2="524.6" y2="385.8" stroke="#8a8a8a" stroke-width="0.8" />
<text transform="translate(524.6,392.2)" y="1.87" font-size="5.2" text-anchor="middle" fill="#333" stroke="#333" stroke-width="0.29" font-weight="normal" >−8</text>
<line x1="549.62" y1="382.8" x2="549.62" y2="385.8" stroke="#8a8a8a" stroke-width="0.8" />
<text transform="translate(549.62,392.2)" y="1.87" font-size="5.2" text-anchor="middle" fill="#333" stroke="#333" stroke-width="0.29" font-weight="normal" >−7</text>
<line x1="574.64" y1="382.8" x2="574.64" y2="385.8" stroke="#8a8a8a" stroke-width="0.8" />
<text transform="translate(574.64,392.2)" y="1.87" font-size="5.2" text-anchor="middle" fill="#333" stroke="#333" stroke-width="0.29" font-weight="normal" >−6</text>
<line x1="599.66" y1="382.8" x2="599.66" y2="385.8" stroke="#8a8a8a" stroke-width="0.8" />
<text transform="translate(599.66,392.2)" y="1.87" font-size="5.2" text-anchor="middle" fill="#333" stroke="#333" stroke-width="0.29" font-weight="normal" >−5</text>
<line x1="624.68" y1="382.8" x2="624.68" y2="385.8" stroke="#8a8a8a" stroke-width="0.8" />
<text transform="translate(624.68,392.2)" y="1.87" font-size="5.2" text-anchor="middle" fill="#333" stroke="#333" stroke-width="0.29" font-weight="normal" >−4</text>
<line x1="649.7" y1="382.8" x2="649.7" y2="385.8" stroke="#8a8a8a" stroke-width="0.8" />
<text transform="translate(649.7,392.2)" y="1.87" font-size="5.2" text-anchor="middle" fill="#333" stroke="#333" stroke-width="0.29" font-weight="normal" >−3</text>
<line x1="482.6" y1="233.3" x2="485.6" y2="233.3" stroke="#8a8a8a" stroke-width="0.8" />
<text transform="translate(476,233.3) rotate(-90)" y="2.02" font-size="5.6" text-anchor="middle" fill="#333" stroke="#333" stroke-width="0.31" font-weight="normal" >0.85</text>
<line x1="482.6" y1="263.4" x2="485.6" y2="263.4" stroke="#8a8a8a" stroke-width="0.8" />
<text transform="translate(476,263.4) rotate(-90)" y="2.02" font-size="5.6" text-anchor="middle" fill="#333" stroke="#333" stroke-width="0.31" font-weight="normal" >0.80</text>
<line x1="482.6" y1="293.5" x2="485.6" y2="293.5" stroke="#8a8a8a" stroke-width="0.8" />
<text transform="translate(476,293.5) rotate(-90)" y="2.02" font-size="5.6" text-anchor="middle" fill="#333" stroke="#333" stroke-width="0.31" font-weight="normal" >0.75</text>
<line x1="482.6" y1="323.5" x2="485.6" y2="323.5" stroke="#8a8a8a" stroke-width="0.8" />
<text transform="translate(476,323.5) rotate(-90)" y="2.02" font-size="5.6" text-anchor="middle" fill="#333" stroke="#333" stroke-width="0.31" font-weight="normal" >0.70</text>
<line x1="482.6" y1="353.6" x2="485.6" y2="353.6" stroke="#8a8a8a" stroke-width="0.8" />
<text transform="translate(476,353.6) rotate(-90)" y="2.02" font-size="5.6" text-anchor="middle" fill="#333" stroke="#333" stroke-width="0.31" font-weight="normal" >0.65</text>
<text transform="translate(463.2,303.4) rotate(-90)" y="1.87" font-size="5.2" text-anchor="middle" fill="#222" stroke="#222" stroke-width="0.29" font-weight="normal" >Binomial Deviance</text>
<text transform="translate(576.7,405)" y="1.87" font-size="5.2" text-anchor="middle" fill="#222" stroke="#222" stroke-width="0.29" font-weight="normal" >log(Lambda)</text>
<text transform="translate(492,214.2)" y="1.87" font-size="5.2" text-anchor="middle" fill="#333" stroke="#333" stroke-width="0.29" font-weight="normal" >24</text>
<text transform="translate(503.5,214.2)" y="1.87" font-size="5.2" text-anchor="middle" fill="#333" stroke="#333" stroke-width="0.29" font-weight="normal" >24</text>
<text transform="translate(515,214.2)" y="1.87" font-size="5.2" text-anchor="middle" fill="#333" stroke="#333" stroke-width="0.29" font-weight="normal" >23</text>
<text transform="translate(526.7,214.2)" y="1.87" font-size="5.2" text-anchor="middle" fill="#333" stroke="#333" stroke-width="0.29" font-weight="normal" >24</text>
<text transform="translate(538.2,214.2)" y="1.87" font-size="5.2" text-anchor="middle" fill="#333" stroke="#333" stroke-width="0.29" font-weight="normal" >23</text>
<text transform="translate(549.6,214.2)" y="1.87" font-size="5.2" text-anchor="middle" fill="#333" stroke="#333" stroke-width="0.29" font-weight="normal" >21</text>
<text transform="translate(561.2,214.2)" y="1.87" font-size="5.2" text-anchor="middle" fill="#333" stroke="#333" stroke-width="0.29" font-weight="normal" >21</text>
<text transform="translate(573.2,214.2)" y="1.87" font-size="5.2" text-anchor="middle" fill="#333" stroke="#333" stroke-width="0.29" font-weight="normal" >19</text>
<text transform="translate(584.7,214.2)" y="1.87" font-size="5.2" text-anchor="middle" fill="#333" stroke="#333" stroke-width="0.29" font-weight="normal" >15</text>
<text transform="translate(596.3,214.2)" y="1.87" font-size="5.2" text-anchor="middle" fill="#333" stroke="#333" stroke-width="0.29" font-weight="normal" >13</text>
<text transform="translate(607.9,214.2)" y="1.87" font-size="5.2" text-anchor="middle" fill="#333" stroke="#333" stroke-width="0.29" font-weight="normal" >12</text>
<text transform="translate(619.4,214.2)" y="1.87" font-size="5.2" text-anchor="middle" fill="#333" stroke="#333" stroke-width="0.29" font-weight="normal" >10</text>
<text transform="translate(631,214.2)" y="1.87" font-size="5.2" text-anchor="middle" fill="#333" stroke="#333" stroke-width="0.29" font-weight="normal" >10</text>
<text transform="translate(640.3,214.2)" y="1.87" font-size="5.2" text-anchor="middle" fill="#333" stroke="#333" stroke-width="0.29" font-weight="normal" >7</text>
<text transform="translate(649.5,214.2)" y="1.87" font-size="5.2" text-anchor="middle" fill="#333" stroke="#333" stroke-width="0.29" font-weight="normal" >3</text>
<text transform="translate(659,214.2)" y="1.87" font-size="5.2" text-anchor="middle" fill="#333" stroke="#333" stroke-width="0.29" font-weight="normal" >1</text>
<rect x="20.8" y="222.3" width="6.5" height="21.45" fill="#000000"/>
<rect x="53.28" y="222.3" width="6.5" height="21.45" fill="#000000"/>
<rect x="72.77" y="222.3" width="6.5" height="21.45" fill="#000000"/>
<rect x="111.75" y="222.3" width="12.99" height="21.45" fill="#000000"/>
<rect x="20.8" y="242.25" width="6.5" height="21.45" fill="#000000"/>
<rect x="53.28" y="242.25" width="12.99" height="21.45" fill="#000000"/>
<rect x="72.77" y="242.25" width="6.5" height="21.45" fill="#000000"/>
<rect x="111.75" y="242.25" width="12.99" height="21.45" fill="#000000"/>
<rect x="20.8" y="262.2" width="6.5" height="21.45" fill="#000000"/>
<rect x="40.29" y="262.2" width="6.5" height="19.95" fill="#000000"/>
<rect x="53.28" y="262.2" width="12.99" height="19.95" fill="#000000"/>
<rect x="53.28" y="282.05" width="6.5" height="1.6" fill="#000000"/>
<rect x="72.77" y="262.2" width="6.5" height="19.95" fill="#000000"/>
<rect x="111.75" y="262.2" width="12.99" height="21.45" fill="#000000"/>
<rect x="20.8" y="282.15" width="6.5" height="21.45" fill="#1a1a1a"/>
<rect x="53.28" y="282.15" width="6.5" height="21.45" fill="#1a1a1a"/>
<rect x="111.75" y="282.15" width="12.99" height="21.45" fill="#1a1a1a"/>
<rect x="20.8" y="302.1" width="6.5" height="21.45" fill="#333333"/>
<rect x="40.29" y="302.1" width="6.5" height="19.95" fill="#333333"/>
<rect x="53.28" y="302.1" width="12.99" height="19.95" fill="#333333"/>
<rect x="72.77" y="302.1" width="6.5" height="19.95" fill="#333333"/>
<rect x="111.75" y="302.1" width="12.99" height="21.45" fill="#333333"/>
<rect x="183.21" y="302.1" width="6.5" height="19.95" fill="#333333"/>
<rect x="20.8" y="322.05" width="6.5" height="21.45" fill="#666666"/>
<rect x="111.75" y="322.05" width="12.99" height="21.45" fill="#666666"/>
<rect x="20.8" y="342" width="6.5" height="21.45" fill="#666666"/>
<rect x="40.29" y="342" width="6.5" height="19.95" fill="#666666"/>
<rect x="53.28" y="342" width="25.99" height="19.95" fill="#666666"/>
<rect x="111.75" y="342" width="12.99" height="19.95" fill="#666666"/>
<rect x="118.25" y="361.85" width="6.5" height="1.6" fill="#666666"/>
<rect x="183.21" y="342" width="6.5" height="19.95" fill="#666666"/>
<rect x="20.8" y="361.95" width="6.5" height="19.95" fill="#e5e5e5"/>
<rect x="118.25" y="361.95" width="6.5" height="19.95" fill="#e5e5e5"/>
<line x1="20.8" y1="222.3" x2="202.7" y2="222.3" stroke="#8a8a8a" stroke-width="0.8" />
<line x1="202.7" y1="222.3" x2="202.7" y2="381.9" stroke="#8a8a8a" stroke-width="0.8" />
<line x1="20.8" y1="381.9" x2="202.7" y2="381.9" stroke="#8a8a8a" stroke-width="0.8" />
<line x1="20.8" y1="222.3" x2="20.8" y2="381.9" stroke="#aaa" stroke-width="0.6" />
<line x1="18.8" y1="232.28" x2="20.8" y2="232.28" stroke="#8a8a8a" stroke-width="0.7" />
<text transform="translate(16.2,232.28)" y="1.58" font-size="4.4" text-anchor="end" fill="#333" stroke="#333" stroke-width="0.24" font-weight="normal" >-48</text>
<line x1="18.8" y1="252.22" x2="20.8" y2="252.22" stroke="#8a8a8a" stroke-width="0.7" />
<text transform="translate(16.2,252.22)" y="1.58" font-size="4.4" text-anchor="end" fill="#333" stroke="#333" stroke-width="0.24" font-weight="normal" >-48</text>
<line x1="18.8" y1="272.18" x2="20.8" y2="272.18" stroke="#8a8a8a" stroke-width="0.7" />
<text transform="translate(16.2,272.18)" y="1.58" font-size="4.4" text-anchor="end" fill="#333" stroke="#333" stroke-width="0.24" font-weight="normal" >-46</text>
<line x1="18.8" y1="292.12" x2="20.8" y2="292.12" stroke="#8a8a8a" stroke-width="0.7" />
<text transform="translate(16.2,292.12)" y="1.58" font-size="4.4" text-anchor="end" fill="#333" stroke="#333" stroke-width="0.24" font-weight="normal" >-45</text>
<line x1="18.8" y1="312.07" x2="20.8" y2="312.07" stroke="#8a8a8a" stroke-width="0.7" />
<text transform="translate(16.2,312.07)" y="1.58" font-size="4.4" text-anchor="end" fill="#333" stroke="#333" stroke-width="0.24" font-weight="normal" >-43</text>
<line x1="18.8" y1="332.02" x2="20.8" y2="332.02" stroke="#8a8a8a" stroke-width="0.7" />
<text transform="translate(16.2,332.02)" y="1.58" font-size="4.4" text-anchor="end" fill="#333" stroke="#333" stroke-width="0.24" font-weight="normal" >-38</text>
<line x1="18.8" y1="351.98" x2="20.8" y2="351.98" stroke="#8a8a8a" stroke-width="0.7" />
<text transform="translate(16.2,351.98)" y="1.58" font-size="4.4" text-anchor="end" fill="#333" stroke="#333" stroke-width="0.24" font-weight="normal" >-36</text>
<line x1="18.8" y1="371.92" x2="20.8" y2="371.92" stroke="#8a8a8a" stroke-width="0.7" />
<text transform="translate(16.2,371.92)" y="1.58" font-size="4.4" text-anchor="end" fill="#333" stroke="#333" stroke-width="0.24" font-weight="normal" >-23</text>
<line x1="24.05" y1="381.9" x2="24.05" y2="384.4" stroke="#8a8a8a" stroke-width="0.7" />
<line x1="30.54" y1="381.9" x2="30.54" y2="384.4" stroke="#8a8a8a" stroke-width="0.7" />
<line x1="37.04" y1="381.9" x2="37.04" y2="384.4" stroke="#8a8a8a" stroke-width="0.7" />
<line x1="43.54" y1="381.9" x2="43.54" y2="384.4" stroke="#8a8a8a" stroke-width="0.7" />
<line x1="50.03" y1="381.9" x2="50.03" y2="384.4" stroke="#8a8a8a" stroke-width="0.7" />
<line x1="56.53" y1="381.9" x2="56.53" y2="384.4" stroke="#8a8a8a" stroke-width="0.7" />
<line x1="63.03" y1="381.9" x2="63.03" y2="384.4" stroke="#8a8a8a" stroke-width="0.7" />
<line x1="69.52" y1="381.9" x2="69.52" y2="384.4" stroke="#8a8a8a" stroke-width="0.7" />
<line x1="76.02" y1="381.9" x2="76.02" y2="384.4" stroke="#8a8a8a" stroke-width="0.7" />
<line x1="82.52" y1="381.9" x2="82.52" y2="384.4" stroke="#8a8a8a" stroke-width="0.7" />
<line x1="89.01" y1="381.9" x2="89.01" y2="384.4" stroke="#8a8a8a" stroke-width="0.7" />
<line x1="95.51" y1="381.9" x2="95.51" y2="384.4" stroke="#8a8a8a" stroke-width="0.7" />
<line x1="102.01" y1="381.9" x2="102.01" y2="384.4" stroke="#8a8a8a" stroke-width="0.7" />
<line x1="108.5" y1="381.9" x2="108.5" y2="384.4" stroke="#8a8a8a" stroke-width="0.7" />
<line x1="115" y1="381.9" x2="115" y2="384.4" stroke="#8a8a8a" stroke-width="0.7" />
<line x1="121.49" y1="381.9" x2="121.49" y2="384.4" stroke="#8a8a8a" stroke-width="0.7" />
<line x1="127.99" y1="381.9" x2="127.99" y2="384.4" stroke="#8a8a8a" stroke-width="0.7" />
<line x1="134.49" y1="381.9" x2="134.49" y2="384.4" stroke="#8a8a8a" stroke-width="0.7" />
<line x1="140.98" y1="381.9" x2="140.98" y2="384.4" stroke="#8a8a8a" stroke-width="0.7" />
<line x1="147.48" y1="381.9" x2="147.48" y2="384.4" stroke="#8a8a8a" stroke-width="0.7" />
<line x1="153.98" y1="381.9" x2="153.98" y2="384.4" stroke="#8a8a8a" stroke-width="0.7" />
<line x1="160.47" y1="381.9" x2="160.47" y2="384.4" stroke="#8a8a8a" stroke-width="0.7" />
<line x1="166.97" y1="381.9" x2="166.97" y2="384.4" stroke="#8a8a8a" stroke-width="0.7" />
<line x1="173.47" y1="381.9" x2="173.47" y2="384.4" stroke="#8a8a8a" stroke-width="0.7" />
<line x1="179.96" y1="381.9" x2="179.96" y2="384.4" stroke="#8a8a8a" stroke-width="0.7" />
<line x1="186.46" y1="381.9" x2="186.46" y2="384.4" stroke="#8a8a8a" stroke-width="0.7" />
<line x1="192.96" y1="381.9" x2="192.96" y2="384.4" stroke="#8a8a8a" stroke-width="0.7" />
<line x1="199.45" y1="381.9" x2="199.45" y2="384.4" stroke="#8a8a8a" stroke-width="0.7" />
<text transform="translate(26.25,387.9) rotate(-90)" font-size="5" text-anchor="end" fill="#222" stroke="#222" stroke-width="0.35">(Intercept)</text>
<text transform="translate(58.12,387.9) rotate(-90)" font-size="3.3" text-anchor="end" fill="#222" stroke="#222" stroke-width="0.23">Pulse pressure</text>
<text transform="translate(77.43,387.9) rotate(-90)" font-size="2.8" text-anchor="end" fill="#222" stroke="#222" stroke-width="0.2">WBC</text>
<text transform="translate(116.33,387.9) rotate(-90)" font-size="2.6" text-anchor="end" fill="#222" stroke="#222" stroke-width="0.18">eGFR</text>
<text transform="translate(123.01,387.9) rotate(-90)" font-size="3.1" text-anchor="end" fill="#222" stroke="#222" stroke-width="0.22">D-dimer</text>
<text transform="translate(3,302.6) rotate(-90)" y="1.58" font-size="4.4" text-anchor="middle" fill="#222" stroke="#222" stroke-width="0.24" font-weight="normal" >BIC</text>
<rect x="254" y="222.6" width="6.49" height="21.41" fill="#000000"/>
<rect x="273.48" y="222.6" width="6.49" height="21.41" fill="#000000"/>
<rect x="286.46" y="222.6" width="25.97" height="19.91" fill="#000000"/>
<rect x="286.46" y="242.41" width="6.49" height="1.6" fill="#000000"/>
<rect x="292.96" y="242.41" width="6.49" height="1.6" fill="#000000"/>
<rect x="305.94" y="242.41" width="6.49" height="1.6" fill="#000000"/>
<rect x="344.9" y="222.6" width="12.99" height="21.41" fill="#000000"/>
<rect x="416.32" y="222.6" width="6.49" height="21.41" fill="#000000"/>
<rect x="254" y="242.51" width="6.49" height="21.41" fill="#000000"/>
<rect x="273.48" y="242.51" width="6.49" height="21.41" fill="#000000"/>
<rect x="286.46" y="242.51" width="12.99" height="21.41" fill="#000000"/>
<rect x="305.94" y="242.51" width="6.49" height="21.41" fill="#000000"/>
<rect x="344.9" y="242.51" width="12.99" height="21.41" fill="#000000"/>
<rect x="416.32" y="242.51" width="6.49" height="19.91" fill="#000000"/>
<rect x="254" y="262.43" width="6.49" height="21.41" fill="#000000"/>
<rect x="273.48" y="262.43" width="6.49" height="19.91" fill="#000000"/>
<rect x="286.46" y="262.43" width="12.99" height="21.41" fill="#000000"/>
<rect x="305.94" y="262.43" width="6.49" height="21.41" fill="#000000"/>
<rect x="344.9" y="262.43" width="12.99" height="21.41" fill="#000000"/>
<rect x="254" y="282.34" width="6.49" height="21.41" fill="#000000"/>
<rect x="286.46" y="282.34" width="12.99" height="19.91" fill="#000000"/>
<rect x="286.46" y="302.15" width="6.49" height="1.6" fill="#000000"/>
<rect x="305.94" y="282.34" width="6.49" height="21.41" fill="#000000"/>
<rect x="344.9" y="282.34" width="12.99" height="21.41" fill="#000000"/>
<rect x="254" y="302.25" width="6.49" height="21.41" fill="#1a1a1a"/>
<rect x="286.46" y="302.25" width="6.49" height="21.41" fill="#1a1a1a"/>
<rect x="305.94" y="302.25" width="6.49" height="19.91" fill="#1a1a1a"/>
<rect x="344.9" y="302.25" width="12.99" height="21.41" fill="#1a1a1a"/>
<rect x="254" y="322.16" width="6.49" height="21.41" fill="#333333"/>
<rect x="286.46" y="322.16" width="6.49" height="19.91" fill="#333333"/>
<rect x="344.9" y="322.16" width="12.99" height="21.41" fill="#333333"/>
<rect x="254" y="342.07" width="6.49" height="21.41" fill="#666666"/>
<rect x="344.9" y="342.07" width="12.99" height="19.91" fill="#666666"/>
<rect x="351.39" y="361.89" width="6.49" height="1.6" fill="#666666"/>
<rect x="254" y="361.99" width="6.49" height="19.91" fill="#e5e5e5"/>
<rect x="351.39" y="361.99" width="6.49" height="19.91" fill="#e5e5e5"/>
<line x1="254" y1="222.6" x2="435.8" y2="222.6" stroke="#8a8a8a" stroke-width="0.8" />
<line x1="435.8" y1="222.6" x2="435.8" y2="381.9" stroke="#8a8a8a" stroke-width="0.8" />
<line x1="254" y1="381.9" x2="435.8" y2="381.9" stroke="#8a8a8a" stroke-width="0.8" />
<line x1="254" y1="222.6" x2="254" y2="381.9" stroke="#aaa" stroke-width="0.6" />
<line x1="252" y1="232.56" x2="254" y2="232.56" stroke="#8a8a8a" stroke-width="0.7" />
<text transform="translate(249.2,232.56)" y="1.44" font-size="4" text-anchor="end" fill="#333" stroke="#333" stroke-width="0.22" font-weight="normal" >0.14</text>
<line x1="252" y1="252.47" x2="254" y2="252.47" stroke="#8a8a8a" stroke-width="0.7" />
<text transform="translate(249.2,252.47)" y="1.44" font-size="4" text-anchor="end" fill="#333" stroke="#333" stroke-width="0.22" font-weight="normal" >0.14</text>
<line x1="252" y1="272.38" x2="254" y2="272.38" stroke="#8a8a8a" stroke-width="0.7" />
<text transform="translate(249.2,272.38)" y="1.44" font-size="4" text-anchor="end" fill="#333" stroke="#333" stroke-width="0.22" font-weight="normal" >0.14</text>
<line x1="252" y1="292.29" x2="254" y2="292.29" stroke="#8a8a8a" stroke-width="0.7" />
<text transform="translate(249.2,292.29)" y="1.44" font-size="4" text-anchor="end" fill="#333" stroke="#333" stroke-width="0.22" font-weight="normal" >0.13</text>
<line x1="252" y1="312.21" x2="254" y2="312.21" stroke="#8a8a8a" stroke-width="0.7" />
<text transform="translate(249.2,312.21)" y="1.44" font-size="4" text-anchor="end" fill="#333" stroke="#333" stroke-width="0.22" font-weight="normal" >0.13</text>
<line x1="252" y1="332.12" x2="254" y2="332.12" stroke="#8a8a8a" stroke-width="0.7" />
<text transform="translate(249.2,332.12)" y="1.44" font-size="4" text-anchor="end" fill="#333" stroke="#333" stroke-width="0.22" font-weight="normal" >0.11</text>
<line x1="252" y1="352.03" x2="254" y2="352.03" stroke="#8a8a8a" stroke-width="0.7" />
<text transform="translate(249.2,352.03)" y="1.44" font-size="4" text-anchor="end" fill="#333" stroke="#333" stroke-width="0.22" font-weight="normal" >0.090</text>
<line x1="252" y1="371.94" x2="254" y2="371.94" stroke="#8a8a8a" stroke-width="0.7" />
<text transform="translate(249.2,371.94)" y="1.44" font-size="4" text-anchor="end" fill="#333" stroke="#333" stroke-width="0.22" font-weight="normal" >0.08</text>
<line x1="257.25" y1="381.9" x2="257.25" y2="384.4" stroke="#8a8a8a" stroke-width="0.7" />
<line x1="263.74" y1="381.9" x2="263.74" y2="384.4" stroke="#8a8a8a" stroke-width="0.7" />
<line x1="270.23" y1="381.9" x2="270.23" y2="384.4" stroke="#8a8a8a" stroke-width="0.7" />
<line x1="276.73" y1="381.9" x2="276.73" y2="384.4" stroke="#8a8a8a" stroke-width="0.7" />
<line x1="283.22" y1="381.9" x2="283.22" y2="384.4" stroke="#8a8a8a" stroke-width="0.7" />
<line x1="289.71" y1="381.9" x2="289.71" y2="384.4" stroke="#8a8a8a" stroke-width="0.7" />
<line x1="296.2" y1="381.9" x2="296.2" y2="384.4" stroke="#8a8a8a" stroke-width="0.7" />
<line x1="302.7" y1="381.9" x2="302.7" y2="384.4" stroke="#8a8a8a" stroke-width="0.7" />
<line x1="309.19" y1="381.9" x2="309.19" y2="384.4" stroke="#8a8a8a" stroke-width="0.7" />
<line x1="315.68" y1="381.9" x2="315.68" y2="384.4" stroke="#8a8a8a" stroke-width="0.7" />
<line x1="322.18" y1="381.9" x2="322.18" y2="384.4" stroke="#8a8a8a" stroke-width="0.7" />
<line x1="328.67" y1="381.9" x2="328.67" y2="384.4" stroke="#8a8a8a" stroke-width="0.7" />
<line x1="335.16" y1="381.9" x2="335.16" y2="384.4" stroke="#8a8a8a" stroke-width="0.7" />
<line x1="341.65" y1="381.9" x2="341.65" y2="384.4" stroke="#8a8a8a" stroke-width="0.7" />
<line x1="348.15" y1="381.9" x2="348.15" y2="384.4" stroke="#8a8a8a" stroke-width="0.7" />
<line x1="354.64" y1="381.9" x2="354.64" y2="384.4" stroke="#8a8a8a" stroke-width="0.7" />
<line x1="361.13" y1="381.9" x2="361.13" y2="384.4" stroke="#8a8a8a" stroke-width="0.7" />
<line x1="367.62" y1="381.9" x2="367.62" y2="384.4" stroke="#8a8a8a" stroke-width="0.7" />
<line x1="374.12" y1="381.9" x2="374.12" y2="384.4" stroke="#8a8a8a" stroke-width="0.7" />
<line x1="380.61" y1="381.9" x2="380.61" y2="384.4" stroke="#8a8a8a" stroke-width="0.7" />
<line x1="387.1" y1="381.9" x2="387.1" y2="384.4" stroke="#8a8a8a" stroke-width="0.7" />
<line x1="393.6" y1="381.9" x2="393.6" y2="384.4" stroke="#8a8a8a" stroke-width="0.7" />
<line x1="400.09" y1="381.9" x2="400.09" y2="384.4" stroke="#8a8a8a" stroke-width="0.7" />
<line x1="406.58" y1="381.9" x2="406.58" y2="384.4" stroke="#8a8a8a" stroke-width="0.7" />
<line x1="413.07" y1="381.9" x2="413.07" y2="384.4" stroke="#8a8a8a" stroke-width="0.7" />
<line x1="419.57" y1="381.9" x2="419.57" y2="384.4" stroke="#8a8a8a" stroke-width="0.7" />
<line x1="426.06" y1="381.9" x2="426.06" y2="384.4" stroke="#8a8a8a" stroke-width="0.7" />
<line x1="432.55" y1="381.9" x2="432.55" y2="384.4" stroke="#8a8a8a" stroke-width="0.7" />
<text transform="translate(259.41,387.9) rotate(-90)" font-size="4.9" text-anchor="end" fill="#222" stroke="#222" stroke-width="0.34">(Intercept)</text>
<text transform="translate(278.58,387.9) rotate(-90)" font-size="4.05" text-anchor="end" fill="#222" stroke="#222" stroke-width="0.28">History of stroke</text>
<text transform="translate(291.55,387.9) rotate(-90)" font-size="4" text-anchor="end" fill="#222" stroke="#222" stroke-width="0.28">Pulse pressure</text>
<text transform="translate(298.04,387.9) rotate(-90)" font-size="4" text-anchor="end" fill="#222" stroke="#222" stroke-width="0.28">NT-proBNP</text>
<text transform="translate(304.59,387.9) rotate(-90)" font-size="4.15" text-anchor="end" fill="#222" stroke="#222" stroke-width="0.29">hs-CRP</text>
<text transform="translate(311.1,387.9) rotate(-90)" font-size="4.2" text-anchor="end" fill="#222" stroke="#222" stroke-width="0.29">WBC</text>
<text transform="translate(350.06,387.9) rotate(-90)" font-size="4.2" text-anchor="end" fill="#222" stroke="#222" stroke-width="0.29">Hematocrit</text>
<text transform="translate(356.55,387.9) rotate(-90)" font-size="4.2" text-anchor="end" fill="#222" stroke="#222" stroke-width="0.29">D-dimer</text>
<text transform="translate(421.12,387.9) rotate(-90)" font-size="3.2" text-anchor="end" fill="#222" stroke="#222" stroke-width="0.22">UA</text>
<text transform="translate(237.1,302.75) rotate(-90)" y="1.55" font-size="4.3" text-anchor="middle" fill="#222" stroke="#222" stroke-width="0.24" font-weight="normal" >Adjusted R-squared</text>
</svg></body></html>
